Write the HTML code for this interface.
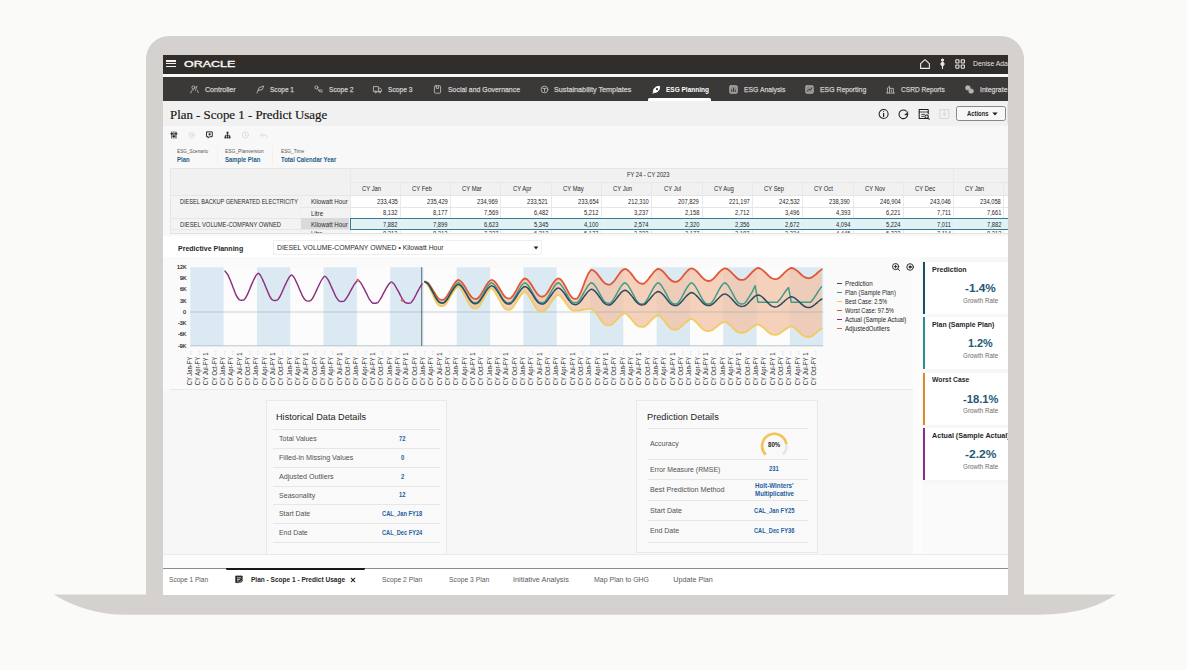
<!DOCTYPE html>
<html lang="en"><head><meta charset="utf-8"><title>Plan - Scope 1 - Predict Usage</title>
<style>
html,body{margin:0;padding:0;}
body{width:1187px;height:670px;overflow:hidden;background:#fafaf9;position:relative;font-family:"Liberation Sans",sans-serif;}
.a{position:absolute;box-sizing:border-box;}
.t{position:absolute;white-space:nowrap;transform-origin:0 50%;font-family:"Liberation Sans",sans-serif;}
.t.s{font-family:"Liberation Serif",serif;}
.t.b{font-weight:700;}
svg{position:absolute;overflow:visible;}
#screen{position:absolute;left:163px;top:55px;width:845px;height:540px;overflow:hidden;background:#f5f5f5;}
#screen .a, #screen .t, #screen svg{ }
</style></head><body>
<div class="a" style="left:145.5px;top:36px;width:878.5px;height:565px;background:#d5d1ce;border-radius:23px 23px 0 0;"></div>
<svg width="1187" height="670" style="left:0;top:0"><path d="M54 594.6 L1116 594.6 C1100 606 1075 614.8 1038 614.8 L124 614.8 C96 614.8 70 605 54 594.6 Z" fill="#d5d1ce"/></svg>
<div id="screen"><div class="a" style="left:-163px;top:-55px;width:1187px;height:670px;">
<div class="a" style="left:163px;top:55px;width:845px;height:19px;background:#312d2a;"></div>
<div class="a" style="left:163px;top:74px;width:845px;height:3px;background:#fbf9f8;"></div>
<div class="a" style="left:163px;top:77px;width:845px;height:24.3px;background:#3a3938;"></div>
<div class="a" style="left:163px;top:101.3px;width:845px;height:24.5px;background:#f1f1f1;"></div>
<div class="a" style="left:163px;top:125.8px;width:845px;height:111px;background:#f8f8f8;"></div>
<div class="a" style="left:166.4px;top:60.25px;width:9.7px;height:1.3px;background:#f2f0ee;"></div>
<div class="a" style="left:166.4px;top:63.15px;width:9.7px;height:1.3px;background:#f2f0ee;"></div>
<div class="a" style="left:166.4px;top:65.94999999999999px;width:9.7px;height:1.3px;background:#f2f0ee;"></div>
<div class="t" style="left:184.00px;top:60px;font-size:9.2px;line-height:9.2px;color:#f7f5f3;transform:scaleX(1.3559);-webkit-text-stroke:0.4px #f7f5f3;">ORACLE</div>
<svg width="60" height="14" viewBox="0 0 60 14" style="left:917px;top:57px" fill="none" stroke="#ece9e6" stroke-width="1.1" stroke-linejoin="round" stroke-linecap="round"><path d="M3.6 6.6 L8 2.6 L12.4 6.6 V11.4 H3.6 Z"/><circle cx="25.5" cy="3" r="1" fill="#ece9e6"/><path d="M25.5 4.8 L27.3 7 L25.5 9.2 L23.7 7 Z" fill="#ece9e6"/><path d="M25.5 9.4 V11.4"/><rect x="38.8" y="2.8" width="3.2" height="3.2" rx="0.6"/><rect x="44.2" y="2.8" width="3.2" height="3.2" rx="0.6"/><rect x="38.8" y="8" width="3.2" height="3.2" rx="0.6"/><rect x="44.2" y="8" width="3.2" height="3.2" rx="0.6"/></svg>
<div class="t" style="left:972.80px;top:60px;font-size:7.3px;line-height:7.3px;color:#e6e3e0;transform:scaleX(0.9315);">Denise Adams</div>
<div class="t" style="left:204.70px;top:86px;font-size:7.5px;line-height:7.5px;color:#cfcdcb;transform:scaleX(0.9411);-webkit-text-stroke:0.25px #cfcdcb;">Controller</div>
<div class="t" style="left:270.40px;top:86px;font-size:7.5px;line-height:7.5px;color:#cfcdcb;transform:scaleX(0.8720);-webkit-text-stroke:0.25px #cfcdcb;">Scope 1</div>
<div class="t" style="left:328.80px;top:86px;font-size:7.5px;line-height:7.5px;color:#cfcdcb;transform:scaleX(0.8902);-webkit-text-stroke:0.25px #cfcdcb;">Scope 2</div>
<div class="t" style="left:388.20px;top:86px;font-size:7.5px;line-height:7.5px;color:#cfcdcb;transform:scaleX(0.8902);-webkit-text-stroke:0.25px #cfcdcb;">Scope 3</div>
<div class="t" style="left:447.80px;top:86px;font-size:7.5px;line-height:7.5px;color:#cfcdcb;transform:scaleX(0.9235);-webkit-text-stroke:0.25px #cfcdcb;">Social and Governance</div>
<div class="t" style="left:554.40px;top:86px;font-size:7.5px;line-height:7.5px;color:#cfcdcb;transform:scaleX(0.9636);-webkit-text-stroke:0.25px #cfcdcb;">Sustainability Templates</div>
<div class="t" style="left:744.00px;top:86px;font-size:7.5px;line-height:7.5px;color:#cfcdcb;transform:scaleX(0.9089);-webkit-text-stroke:0.25px #cfcdcb;">ESG Analysis</div>
<div class="t" style="left:820.00px;top:86px;font-size:7.5px;line-height:7.5px;color:#cfcdcb;transform:scaleX(0.9159);-webkit-text-stroke:0.25px #cfcdcb;">ESG Reporting</div>
<div class="t" style="left:901.30px;top:86px;font-size:7.5px;line-height:7.5px;color:#cfcdcb;transform:scaleX(0.8811);-webkit-text-stroke:0.25px #cfcdcb;">CSRD Reports</div>
<div class="t" style="left:980.00px;top:86px;font-size:7.5px;line-height:7.5px;color:#cfcdcb;transform:scaleX(0.9289);-webkit-text-stroke:0.25px #cfcdcb;">Integrate</div>
<div class="t b" style="left:666.40px;top:86px;font-size:7.4px;line-height:7.4px;color:#ffffff;transform:scaleX(0.8788);">ESG Planning</div>
<div class="a" style="left:648.2px;top:98.2px;width:62.4px;height:3.1px;background:#ffffff;border-radius:1.5px 1.5px 0 0;"></div>
<svg width="9" height="9" viewBox="0 0 9 9" style="left:189.5px;top:84.6px" fill="none" stroke="#b4b2b0" stroke-width="0.95" stroke-linecap="round" stroke-linejoin="round"><circle cx="3.4" cy="2.4" r="1.5"/><path d="M0.8 8 C0.8 5.8 2 4.8 3.6 4.8 M6.8 1.2 L5.6 5.2 M7.4 5.6 L8.2 7.6"/></svg>
<svg width="9" height="9" viewBox="0 0 9 9" style="left:255.5px;top:84.6px" fill="none" stroke="#b4b2b0" stroke-width="0.95" stroke-linecap="round" stroke-linejoin="round"><path d="M1 8 L3.2 2.6 L7.6 1 L6.4 4.6 L2.4 5.4"/></svg>
<svg width="9" height="9" viewBox="0 0 9 9" style="left:314px;top:84.6px" fill="none" stroke="#b4b2b0" stroke-width="0.95" stroke-linecap="round" stroke-linejoin="round"><circle cx="2.4" cy="2.4" r="1.5"/><path d="M3.6 3.6 L5.6 6.8 M5 5 H8 M6.6 6.8 H8.4"/></svg>
<svg width="9" height="9" viewBox="0 0 9 9" style="left:373px;top:84.6px" fill="none" stroke="#b4b2b0" stroke-width="0.95" stroke-linecap="round" stroke-linejoin="round"><path d="M0.8 1.6 H5.4 V6.4 H0.8 Z M5.4 3.2 H7.4 L8.4 4.6 V6.4 H5.4"/><circle cx="2.6" cy="7" r="0.9"/><circle cx="6.6" cy="7" r="0.9"/></svg>
<svg width="9" height="9" viewBox="0 0 9 9" style="left:433px;top:84.6px" fill="none" stroke="#b4b2b0" stroke-width="0.95" stroke-linecap="round" stroke-linejoin="round"><rect x="1.4" y="0.8" width="6.2" height="7.4" rx="1"/><path d="M3.4 0.8 V3.4 H5.6 V0.8"/></svg>
<svg width="9" height="9" viewBox="0 0 9 9" style="left:539.7px;top:84.6px" fill="none" stroke="#b4b2b0" stroke-width="0.95" stroke-linecap="round" stroke-linejoin="round"><circle cx="4.5" cy="4.5" r="3.4"/><path d="M2.8 3.4 H6.2 M4.5 3.4 V6.4"/></svg>
<svg width="9" height="9" viewBox="0 0 9 9" style="left:651.8px;top:84.6px" fill="none" stroke="#ffffff" stroke-width="0.9" stroke-linecap="round" stroke-linejoin="round"><path d="M1.4 7.6 C1 3.6 3.4 1.2 7.6 1.4 C7.8 5.4 5.4 7.8 1.4 7.6 Z" fill="#ffffff"/><circle cx="5" cy="4.2" r="1.1" fill="#3a3938" stroke="none"/><path d="M0.8 8.2 L2.6 6.4" stroke="#ffffff"/></svg>
<svg width="9" height="9" viewBox="0 0 9 9" style="left:729px;top:84.6px" fill="none" stroke="#b4b2b0" stroke-width="0.95" stroke-linecap="round" stroke-linejoin="round"><rect x="0.8" y="0.8" width="7.4" height="7.4" rx="0.8" fill="#8f8d8b"/><path d="M2.6 6.4 V4.8 M4.5 6.4 V3.2 M6.4 6.4 V5.2" stroke="#3a3938"/></svg>
<svg width="9" height="9" viewBox="0 0 9 9" style="left:804.5px;top:84.6px" fill="none" stroke="#b4b2b0" stroke-width="0.95" stroke-linecap="round" stroke-linejoin="round"><rect x="0.8" y="0.8" width="7.4" height="7.4" rx="0.8" fill="#8f8d8b"/><path d="M2.2 6.2 L4 4.2 L5.2 5.2 L7 2.8" stroke="#3a3938"/></svg>
<svg width="9" height="9" viewBox="0 0 9 9" style="left:885.5px;top:84.6px" fill="none" stroke="#b4b2b0" stroke-width="0.95" stroke-linecap="round" stroke-linejoin="round"><path d="M1.4 8 V3 L3.6 1.2 V8 M3.6 3.4 H7.4 V8 M0.6 8 H8.4 M5.4 5 V6.4"/></svg>
<svg width="9" height="9" viewBox="0 0 9 9" style="left:965px;top:84.6px" fill="none" stroke="#b4b2b0" stroke-width="0.95" stroke-linecap="round" stroke-linejoin="round"><rect x="0.8" y="1" width="4.2" height="3.8" rx="1.2" fill="#b9b7b5"/><rect x="4" y="4.2" width="4.2" height="3.8" rx="1.2" fill="#b9b7b5"/></svg>
<div class="t s" style="left:169.80px;top:109px;font-size:12.6px;line-height:12.6px;color:#161616;transform:scaleX(1.0217);-webkit-text-stroke:0.18px #161616;">Plan - Scope 1 - Predict Usage</div>
<svg width="130" height="20" viewBox="0 0 130 20" style="left:876px;top:104px" fill="none" stroke="#1f1f1f" stroke-width="1.05" stroke-linecap="round" stroke-linejoin="round"><circle cx="7.6" cy="10" r="4.5"/><path d="M7.6 9.4 V12.4" stroke-width="1.2"/><circle cx="7.6" cy="7.5" r="0.55" fill="#1f1f1f" stroke="none"/><path d="M31.6 10.6 A4.3 4.3 0 1 1 30.3 7.2"/><path d="M31.9 7.8 L31.9 10.9 L28.9 10.9 Z" fill="#1f1f1f" stroke-width="0.4"/><path d="M51.8 14.4 H43.2 V5.4 H52.2 V10"/><path d="M43.2 8 H52.2 M45.6 10.4 H48.6 M45.6 12.4 H47.6" stroke-width="0.8"/><circle cx="50.6" cy="12.6" r="1.7"/><path d="M51.9 13.9 L53.3 15.3"/><g stroke="#d9d9d9"><rect x="63.8" y="5.6" width="9" height="8.8" rx="0.6"/><path d="M68.3 7.6 V12.4 M66.4 10 H70.2"/></g></svg>
<div class="a" style="left:956.4px;top:106.1px;width:49.3px;height:15.2px;background:#f7f7f7;border:1px solid #8a8785;border-radius:2.5px;"></div>
<div class="t b" style="left:966.50px;top:110px;font-size:7.0px;line-height:7.0px;color:#1f1f1f;transform:scaleX(0.8376);">Actions</div>
<svg width="6" height="4" viewBox="0 0 6 4" style="left:992.3px;top:112.4px"><path d="M0.4 0.4 H5.6 L3 3.6 Z" fill="#1f1f1f"/></svg>
<div class="a" style="left:1006.6px;top:104px;width:1.4px;height:19px;background:#e3e3e3;"></div>
<svg width="110" height="12" viewBox="0 0 110 12" style="left:168px;top:128.8px" fill="none" stroke="#262626" stroke-width="1.25" stroke-linecap="round" stroke-linejoin="round"><g transform="translate(5.9 6) scale(0.72) translate(-5.9 -6)"><path d="M3 1.6 V10.4 M5.9 1.6 V10.4 M8.8 1.6 V10.4"/><path d="M1.9 4.2 H4.1 M4.8 7.8 H7 M7.7 4.2 H9.9" stroke-width="1.9"/></g><g stroke="#dcdcdc" stroke-width="0.95"><circle cx="23.6" cy="6" r="2.7"/><circle cx="23.6" cy="6" r="0.9"/></g><g transform="translate(41.6 6) scale(0.78) translate(-41.6 -6)"><path d="M38.2 2 H45 V8.2 H41.6 L39.8 10 V8.2 H38.2 Z"/><path d="M41.6 3.8 V6.4 M40.3 5.1 H42.9" stroke-width="1"/></g><g transform="translate(59.5 6) scale(0.74) translate(-59.5 -6)"><rect x="58.2" y="1.6" width="2.6" height="2.6" fill="#262626" stroke="none"/><path d="M59.5 4.2 V6.4 M56.7 8 V6.4 H62.3 V8 M59.5 6.4 V8" stroke-width="1.1"/><rect x="55.4" y="8" width="2.4" height="2.6" fill="#262626" stroke="none"/><rect x="58.3" y="8" width="2.4" height="2.6" fill="#262626" stroke="none"/><rect x="61.2" y="8" width="2.4" height="2.6" fill="#262626" stroke="none"/></g><g stroke="#dedede" stroke-width="0.95"><circle cx="77.4" cy="6" r="3.1"/><path d="M77.4 4.2 V6.2 L78.8 7"/><path d="M92.4 6.2 H98.4 C99.6 6.2 99.6 9 98 9 M92.4 6.2 L94.6 4.2 M92.4 6.2 L94.6 8.2"/></g></svg>
<div class="t" style="left:177.20px;top:149px;font-size:5.7px;line-height:5.7px;color:#5a5654;transform:scaleX(0.8301);">ESG_Scenario</div>
<div class="t b" style="left:177.20px;top:157px;font-size:6.9px;line-height:6.9px;color:#1f5c86;transform:scaleX(0.8647);">Plan</div>
<div class="t" style="left:225.20px;top:149px;font-size:5.7px;line-height:5.7px;color:#5a5654;transform:scaleX(0.8646);">ESG_Planversion</div>
<div class="t b" style="left:225.20px;top:157px;font-size:6.9px;line-height:6.9px;color:#1f5c86;transform:scaleX(0.8627);">Sample Plan</div>
<div class="t" style="left:280.80px;top:149px;font-size:5.7px;line-height:5.7px;color:#5a5654;transform:scaleX(0.8387);">ESG_Time</div>
<div class="t b" style="left:280.80px;top:157px;font-size:6.9px;line-height:6.9px;color:#1f5c86;transform:scaleX(0.8669);">Total Calendar Year</div>
<div class="a" style="left:217px;top:146px;width:0.8px;height:19px;background:#f3f1ef;"></div>
<div class="a" style="left:272px;top:146px;width:0.8px;height:19px;background:#f3f1ef;"></div>
<div class="a" style="left:170.0px;top:167.6px;width:838.0px;height:27.80000000000001px;background:#f1f1f1;"></div>
<div class="a" style="left:170.0px;top:195.4px;width:179.5px;height:37.900000000000006px;background:#f3f3f3;"></div>
<div class="a" style="left:349.5px;top:195.4px;width:658.5px;height:37.900000000000006px;background:#ffffff;"></div>
<div class="a" style="left:170.0px;top:167.6px;width:838.0px;height:0.8px;background:#e6e6e6;"></div>
<div class="a" style="left:170.0px;top:167.6px;width:0.8px;height:65.70000000000002px;background:#e6e6e6;"></div>
<div class="a" style="left:170.0px;top:233.3px;width:838.0px;height:0.9px;background:#e2e2e2;"></div>
<div class="a" style="left:349.5px;top:181.5px;width:658.5px;height:0.8px;background:#e9e9e9;"></div>
<div class="a" style="left:170.0px;top:195.4px;width:838.0px;height:0.8px;background:#e6e6e6;"></div>
<div class="a" style="left:349.5px;top:167.6px;width:0.8px;height:65.70000000000002px;background:#e9e9e9;"></div>
<div class="a" style="left:300px;top:195.4px;width:0.8px;height:37.900000000000006px;background:#efefef;"></div>
<div class="a" style="left:953.0999999999999px;top:167.6px;width:0.8px;height:27.80000000000001px;background:#e9e9e9;"></div>
<div class="t" style="left:361.70px;top:185px;font-size:7.0px;line-height:7.0px;color:#2b2b2b;transform:scaleX(0.8370);">CY Jan</div>
<div class="a" style="left:399.8px;top:181.5px;width:0.8px;height:51.80000000000001px;background:#e9e9e9;"></div>
<div class="t" style="left:412.00px;top:185px;font-size:7.0px;line-height:7.0px;color:#2b2b2b;transform:scaleX(0.8370);">CY Feb</div>
<div class="a" style="left:450.1px;top:181.5px;width:0.8px;height:51.80000000000001px;background:#e9e9e9;"></div>
<div class="t" style="left:462.30px;top:185px;font-size:7.0px;line-height:7.0px;color:#2b2b2b;transform:scaleX(0.8370);">CY Mar</div>
<div class="a" style="left:500.4px;top:181.5px;width:0.8px;height:51.80000000000001px;background:#e9e9e9;"></div>
<div class="t" style="left:512.60px;top:185px;font-size:7.0px;line-height:7.0px;color:#2b2b2b;transform:scaleX(0.8370);">CY Apr</div>
<div class="a" style="left:550.7px;top:181.5px;width:0.8px;height:51.80000000000001px;background:#e9e9e9;"></div>
<div class="t" style="left:562.90px;top:185px;font-size:7.0px;line-height:7.0px;color:#2b2b2b;transform:scaleX(0.8370);">CY May</div>
<div class="a" style="left:601.0px;top:181.5px;width:0.8px;height:51.80000000000001px;background:#e9e9e9;"></div>
<div class="t" style="left:613.20px;top:185px;font-size:7.0px;line-height:7.0px;color:#2b2b2b;transform:scaleX(0.8370);">CY Jun</div>
<div class="a" style="left:651.3px;top:181.5px;width:0.8px;height:51.80000000000001px;background:#e9e9e9;"></div>
<div class="t" style="left:663.50px;top:185px;font-size:7.0px;line-height:7.0px;color:#2b2b2b;transform:scaleX(0.8370);">CY Jul</div>
<div class="a" style="left:701.5999999999999px;top:181.5px;width:0.8px;height:51.80000000000001px;background:#e9e9e9;"></div>
<div class="t" style="left:713.80px;top:185px;font-size:7.0px;line-height:7.0px;color:#2b2b2b;transform:scaleX(0.8370);">CY Aug</div>
<div class="a" style="left:751.9px;top:181.5px;width:0.8px;height:51.80000000000001px;background:#e9e9e9;"></div>
<div class="t" style="left:764.10px;top:185px;font-size:7.0px;line-height:7.0px;color:#2b2b2b;transform:scaleX(0.8370);">CY Sep</div>
<div class="a" style="left:802.2px;top:181.5px;width:0.8px;height:51.80000000000001px;background:#e9e9e9;"></div>
<div class="t" style="left:814.40px;top:185px;font-size:7.0px;line-height:7.0px;color:#2b2b2b;transform:scaleX(0.8370);">CY Oct</div>
<div class="a" style="left:852.5px;top:181.5px;width:0.8px;height:51.80000000000001px;background:#e9e9e9;"></div>
<div class="t" style="left:864.70px;top:185px;font-size:7.0px;line-height:7.0px;color:#2b2b2b;transform:scaleX(0.8370);">CY Nov</div>
<div class="a" style="left:902.8px;top:181.5px;width:0.8px;height:51.80000000000001px;background:#e9e9e9;"></div>
<div class="t" style="left:915.00px;top:185px;font-size:7.0px;line-height:7.0px;color:#2b2b2b;transform:scaleX(0.8370);">CY Dec</div>
<div class="a" style="left:953.0999999999999px;top:181.5px;width:0.8px;height:51.80000000000001px;background:#e9e9e9;"></div>
<div class="t" style="left:965.30px;top:185px;font-size:7.0px;line-height:7.0px;color:#2b2b2b;transform:scaleX(0.8370);">CY Jan</div>
<div class="a" style="left:1003.4px;top:181.5px;width:0.8px;height:51.80000000000001px;background:#e9e9e9;"></div>
<div class="t" style="left:627.00px;top:171px;font-size:7.0px;line-height:7.0px;color:#2b2b2b;transform:scaleX(0.8191);">FY 24 - CY 2023</div>
<div class="a" style="left:300px;top:206.75px;width:708px;height:0.8px;background:#e6e6e6;"></div>
<div class="a" style="left:170.0px;top:218.1px;width:838.0px;height:0.8px;background:#e6e6e6;"></div>
<div class="a" style="left:170.0px;top:229.45px;width:838.0px;height:0.8px;background:#e6e6e6;"></div>
<div class="a" style="left:300.8px;top:218.1px;width:48.69999999999999px;height:11.35px;background:#dadada;"></div>
<div class="a" style="left:349.5px;top:217.7px;width:662.5px;height:12.25px;background:#e3f1f6;border:1.3px solid #2f7f92;"></div>
<div class="t" style="left:376.58px;top:198px;font-size:7.0px;line-height:7.0px;color:#262626;transform:scaleX(0.8229);">233,435</div>
<div class="t" style="left:426.88px;top:198px;font-size:7.0px;line-height:7.0px;color:#262626;transform:scaleX(0.8229);">235,429</div>
<div class="t" style="left:477.18px;top:198px;font-size:7.0px;line-height:7.0px;color:#262626;transform:scaleX(0.8229);">234,969</div>
<div class="t" style="left:527.48px;top:198px;font-size:7.0px;line-height:7.0px;color:#262626;transform:scaleX(0.8229);">233,521</div>
<div class="t" style="left:577.78px;top:198px;font-size:7.0px;line-height:7.0px;color:#262626;transform:scaleX(0.8229);">233,654</div>
<div class="t" style="left:628.08px;top:198px;font-size:7.0px;line-height:7.0px;color:#262626;transform:scaleX(0.8229);">212,310</div>
<div class="t" style="left:678.38px;top:198px;font-size:7.0px;line-height:7.0px;color:#262626;transform:scaleX(0.8229);">207,829</div>
<div class="t" style="left:728.68px;top:198px;font-size:7.0px;line-height:7.0px;color:#262626;transform:scaleX(0.8229);">221,197</div>
<div class="t" style="left:778.98px;top:198px;font-size:7.0px;line-height:7.0px;color:#262626;transform:scaleX(0.8229);">242,532</div>
<div class="t" style="left:829.28px;top:198px;font-size:7.0px;line-height:7.0px;color:#262626;transform:scaleX(0.8229);">238,390</div>
<div class="t" style="left:879.58px;top:198px;font-size:7.0px;line-height:7.0px;color:#262626;transform:scaleX(0.8229);">246,904</div>
<div class="t" style="left:929.88px;top:198px;font-size:7.0px;line-height:7.0px;color:#262626;transform:scaleX(0.8229);">243,046</div>
<div class="t" style="left:980.18px;top:198px;font-size:7.0px;line-height:7.0px;color:#262626;transform:scaleX(0.8229);">234,058</div>
<div class="t" style="left:382.99px;top:209px;font-size:7.0px;line-height:7.0px;color:#262626;transform:scaleX(0.8229);">8,132</div>
<div class="t" style="left:433.29px;top:209px;font-size:7.0px;line-height:7.0px;color:#262626;transform:scaleX(0.8229);">8,177</div>
<div class="t" style="left:483.59px;top:209px;font-size:7.0px;line-height:7.0px;color:#262626;transform:scaleX(0.8229);">7,569</div>
<div class="t" style="left:533.89px;top:209px;font-size:7.0px;line-height:7.0px;color:#262626;transform:scaleX(0.8229);">6,482</div>
<div class="t" style="left:584.19px;top:209px;font-size:7.0px;line-height:7.0px;color:#262626;transform:scaleX(0.8229);">5,212</div>
<div class="t" style="left:634.49px;top:209px;font-size:7.0px;line-height:7.0px;color:#262626;transform:scaleX(0.8229);">3,237</div>
<div class="t" style="left:684.79px;top:209px;font-size:7.0px;line-height:7.0px;color:#262626;transform:scaleX(0.8229);">2,158</div>
<div class="t" style="left:735.09px;top:209px;font-size:7.0px;line-height:7.0px;color:#262626;transform:scaleX(0.8229);">2,712</div>
<div class="t" style="left:785.39px;top:209px;font-size:7.0px;line-height:7.0px;color:#262626;transform:scaleX(0.8229);">3,496</div>
<div class="t" style="left:835.69px;top:209px;font-size:7.0px;line-height:7.0px;color:#262626;transform:scaleX(0.8229);">4,393</div>
<div class="t" style="left:885.99px;top:209px;font-size:7.0px;line-height:7.0px;color:#262626;transform:scaleX(0.8229);">6,221</div>
<div class="t" style="left:936.71px;top:209px;font-size:7.0px;line-height:7.0px;color:#262626;transform:scaleX(0.8229);">7,711</div>
<div class="t" style="left:986.59px;top:209px;font-size:7.0px;line-height:7.0px;color:#262626;transform:scaleX(0.8229);">7,661</div>
<div class="t" style="left:382.99px;top:221px;font-size:7.0px;line-height:7.0px;color:#262626;transform:scaleX(0.8229);">7,882</div>
<div class="t" style="left:433.29px;top:221px;font-size:7.0px;line-height:7.0px;color:#262626;transform:scaleX(0.8229);">7,899</div>
<div class="t" style="left:483.59px;top:221px;font-size:7.0px;line-height:7.0px;color:#262626;transform:scaleX(0.8229);">6,623</div>
<div class="t" style="left:533.89px;top:221px;font-size:7.0px;line-height:7.0px;color:#262626;transform:scaleX(0.8229);">5,345</div>
<div class="t" style="left:584.19px;top:221px;font-size:7.0px;line-height:7.0px;color:#262626;transform:scaleX(0.8229);">4,100</div>
<div class="t" style="left:634.49px;top:221px;font-size:7.0px;line-height:7.0px;color:#262626;transform:scaleX(0.8229);">2,574</div>
<div class="t" style="left:684.79px;top:221px;font-size:7.0px;line-height:7.0px;color:#262626;transform:scaleX(0.8229);">2,320</div>
<div class="t" style="left:735.09px;top:221px;font-size:7.0px;line-height:7.0px;color:#262626;transform:scaleX(0.8229);">2,356</div>
<div class="t" style="left:785.39px;top:221px;font-size:7.0px;line-height:7.0px;color:#262626;transform:scaleX(0.8229);">2,672</div>
<div class="t" style="left:835.69px;top:221px;font-size:7.0px;line-height:7.0px;color:#262626;transform:scaleX(0.8229);">4,094</div>
<div class="t" style="left:885.99px;top:221px;font-size:7.0px;line-height:7.0px;color:#262626;transform:scaleX(0.8229);">5,224</div>
<div class="t" style="left:936.71px;top:221px;font-size:7.0px;line-height:7.0px;color:#262626;transform:scaleX(0.8229);">7,011</div>
<div class="t" style="left:986.59px;top:221px;font-size:7.0px;line-height:7.0px;color:#262626;transform:scaleX(0.8229);">7,882</div>
<div class="a" style="left:170.0px;top:230.25px;width:838.0px;height:3.050000000000023px;overflow:hidden;">
<div class="t" style="left:212.99px;top:0px;font-size:7px;line-height:7px;color:#3a3a3a;transform:scaleX(0.823);">8,213</div>
<div class="t" style="left:263.29px;top:0px;font-size:7px;line-height:7px;color:#3a3a3a;transform:scaleX(0.823);">8,212</div>
<div class="t" style="left:313.59px;top:0px;font-size:7px;line-height:7px;color:#3a3a3a;transform:scaleX(0.823);">7,337</div>
<div class="t" style="left:363.89px;top:0px;font-size:7px;line-height:7px;color:#3a3a3a;transform:scaleX(0.823);">6,312</div>
<div class="t" style="left:414.19px;top:0px;font-size:7px;line-height:7px;color:#3a3a3a;transform:scaleX(0.823);">5,177</div>
<div class="t" style="left:464.49px;top:0px;font-size:7px;line-height:7px;color:#3a3a3a;transform:scaleX(0.823);">3,333</div>
<div class="t" style="left:514.79px;top:0px;font-size:7px;line-height:7px;color:#3a3a3a;transform:scaleX(0.823);">2,177</div>
<div class="t" style="left:565.09px;top:0px;font-size:7px;line-height:7px;color:#3a3a3a;transform:scaleX(0.823);">2,187</div>
<div class="t" style="left:615.39px;top:0px;font-size:7px;line-height:7px;color:#3a3a3a;transform:scaleX(0.823);">3,334</div>
<div class="t" style="left:665.69px;top:0px;font-size:7px;line-height:7px;color:#3a3a3a;transform:scaleX(0.823);">4,445</div>
<div class="t" style="left:715.99px;top:0px;font-size:7px;line-height:7px;color:#3a3a3a;transform:scaleX(0.823);">5,333</div>
<div class="t" style="left:766.71px;top:0px;font-size:7px;line-height:7px;color:#3a3a3a;transform:scaleX(0.823);">7,114</div>
<div class="t" style="left:816.59px;top:0px;font-size:7px;line-height:7px;color:#3a3a3a;transform:scaleX(0.823);">8,213</div>
<div class="t" style="left:141.10px;top:0px;font-size:7px;line-height:7px;color:#3a3a3a;transform:scaleX(0.85);">Litre</div>
</div>
<div class="t" style="left:180.20px;top:198px;font-size:7.0px;line-height:7.0px;color:#2b2b2b;transform:scaleX(0.7990);">DIESEL BACKUP GENERATED ELECTRICITY</div>
<div class="t" style="left:311.10px;top:198px;font-size:7.0px;line-height:7.0px;color:#2b2b2b;transform:scaleX(0.8816);">Kilowatt Hour</div>
<div class="t" style="left:311.10px;top:210px;font-size:7.0px;line-height:7.0px;color:#2b2b2b;transform:scaleX(0.8885);">Litre</div>
<div class="t" style="left:180.20px;top:221px;font-size:7.0px;line-height:7.0px;color:#2b2b2b;transform:scaleX(0.8278);">DIESEL VOLUME-COMPANY OWNED</div>
<div class="t" style="left:311.10px;top:221px;font-size:7.0px;line-height:7.0px;color:#2b2b2b;transform:scaleX(0.8816);">Kilowatt Hour</div>
<div class="a" style="left:163px;top:235.6px;width:845px;height:21.7px;background:#ffffff;"></div>
<div class="t b" style="left:177.70px;top:245px;font-size:7.5px;line-height:7.5px;color:#262626;transform:scaleX(0.9367);">Predictive Planning</div>
<div class="a" style="left:273px;top:240.3px;width:269px;height:14.6px;background:#ffffff;border:0.8px solid #efefef;border-radius:1px;"></div>
<div class="t" style="left:277.00px;top:244px;font-size:7.0px;line-height:7.0px;color:#2b2b2b;transform:scaleX(0.9796);">DIESEL VOLUME-COMPANY OWNED • Kilowatt Hour</div>
<svg width="6" height="4" viewBox="0 0 6 4" style="left:532.6px;top:245.9px"><path d="M0.7 0.5 H5.3 L3 3.4 Z" fill="#1f1f1f"/></svg>
<div class="a" style="left:163px;top:257.3px;width:750px;height:132.5px;background:#fafafa;"></div>
<div class="a" style="left:170px;top:389.4px;width:742.8px;height:0.9px;background:#e9e9e9;"></div>
<div class="a" style="left:912.8px;top:257.3px;width:9.4px;height:297px;background:#fcfcfc;"></div>
<svg width="1187" height="670" viewBox="0 0 1187 670" style="left:0;top:0"><rect x="190.3" y="267.2" width="632.9" height="78.6" fill="#fcfcfc"/><rect x="190.30" y="267.2" width="33.31" height="78.6" fill="#dbe9f3"/><rect x="256.92" y="267.2" width="33.31" height="78.6" fill="#dbe9f3"/><rect x="323.54" y="267.2" width="33.31" height="78.6" fill="#dbe9f3"/><rect x="390.16" y="267.2" width="33.31" height="78.6" fill="#dbe9f3"/><rect x="456.78" y="267.2" width="33.31" height="78.6" fill="#dbe9f3"/><rect x="523.41" y="267.2" width="33.31" height="78.6" fill="#dbe9f3"/><rect x="590.03" y="267.2" width="33.31" height="78.6" fill="#dbe9f3"/><rect x="656.65" y="267.2" width="33.31" height="78.6" fill="#dbe9f3"/><rect x="723.27" y="267.2" width="33.31" height="78.6" fill="#dbe9f3"/><rect x="789.89" y="267.2" width="33.31" height="78.6" fill="#dbe9f3"/><path d="M424.9 281.5C425.3 281.8 426.7 282.0 427.6 282.8C428.6 283.6 429.5 284.9 430.4 286.2C431.3 287.5 432.3 289.1 433.2 290.6C434.1 292.1 435.0 293.9 436.0 295.2C436.9 296.6 437.8 297.8 438.7 298.6C439.7 299.4 440.6 299.8 441.5 299.9C442.4 300.0 443.4 300.0 444.3 299.3C445.2 298.7 446.1 297.5 447.1 296.1C448.0 294.8 448.9 293.0 449.8 291.4C450.8 289.8 451.7 287.9 452.6 286.4C453.5 284.9 454.5 283.3 455.4 282.2C456.3 281.2 457.2 280.2 458.2 280.0C459.1 279.9 460.0 280.6 460.9 281.4C461.9 282.2 462.8 283.5 463.7 284.8C464.6 286.2 465.6 287.8 466.5 289.4C467.4 290.9 468.4 292.7 469.3 294.1C470.2 295.5 471.1 296.8 472.1 297.6C473.0 298.4 473.9 298.8 474.8 298.9C475.8 299.1 476.7 299.0 477.6 298.4C478.5 297.8 479.5 296.6 480.4 295.3C481.3 294.0 482.2 292.3 483.2 290.7C484.1 289.1 485.0 287.4 485.9 285.9C486.9 284.4 487.8 282.9 488.7 281.9C489.6 280.9 490.6 279.9 491.5 279.8C492.4 279.6 493.3 280.3 494.3 281.1C495.2 281.9 496.1 283.2 497.0 284.5C498.0 285.9 498.9 287.5 499.8 289.0C500.7 290.6 501.7 292.4 502.6 293.7C503.5 295.1 504.4 296.4 505.4 297.2C506.3 298.0 507.2 298.4 508.1 298.5C509.1 298.7 510.0 298.6 510.9 298.0C511.8 297.3 512.8 296.1 513.7 294.7C514.6 293.4 515.5 291.6 516.5 289.9C517.4 288.3 518.3 286.5 519.2 284.9C520.2 283.4 521.1 281.8 522.0 280.7C522.9 279.7 523.9 278.7 524.8 278.5C525.7 278.4 526.6 279.0 527.6 279.8C528.5 280.6 529.4 281.8 530.3 283.1C531.3 284.4 532.2 286.0 533.1 287.5C534.0 288.9 535.0 290.7 535.9 292.0C536.8 293.3 537.7 294.6 538.7 295.3C539.6 296.1 540.5 296.5 541.4 296.6C542.4 296.8 543.3 296.7 544.2 296.1C545.1 295.5 546.1 294.4 547.0 293.2C547.9 291.9 548.9 290.3 549.8 288.8C550.7 287.2 551.6 285.5 552.6 284.1C553.5 282.7 554.4 281.3 555.3 280.3C556.3 279.3 557.2 278.4 558.1 278.3C559.0 278.2 560.0 278.8 560.9 279.7C561.8 280.6 562.7 282.1 563.7 283.5C564.6 285.0 565.5 286.8 566.4 288.5C567.4 290.2 568.3 292.2 569.2 293.7C570.1 295.1 571.1 296.6 572.0 297.4C572.9 298.3 573.8 298.8 574.8 298.9C575.7 299.0 576.6 299.0 577.5 298.1C578.5 297.2 579.4 295.3 580.3 293.4C581.2 291.5 582.2 288.8 583.1 286.5C584.0 284.1 584.9 281.4 585.9 279.2C586.8 276.9 587.7 274.7 588.6 273.1C589.6 271.6 590.5 270.2 591.4 269.9C592.3 269.5 593.3 270.3 594.2 270.9C595.1 271.5 596.0 272.6 597.0 273.6C597.9 274.6 598.8 275.9 599.7 277.1C600.7 278.4 601.6 279.8 602.5 280.9C603.4 281.9 604.4 282.9 605.3 283.6C606.2 284.2 607.1 284.5 608.1 284.6C609.0 284.7 609.9 284.7 610.8 284.2C611.8 283.7 612.7 282.7 613.6 281.7C614.5 280.6 615.5 279.2 616.4 277.9C617.3 276.6 618.2 275.2 619.2 274.0C620.1 272.8 621.0 271.5 621.9 270.7C622.9 269.9 623.8 269.1 624.7 269.0C625.7 268.8 626.6 269.4 627.5 270.0C628.4 270.6 629.4 271.6 630.3 272.7C631.2 273.7 632.1 275.0 633.1 276.2C634.0 277.4 634.9 278.9 635.8 279.9C636.8 281.0 637.7 282.0 638.6 282.6C639.5 283.3 640.5 283.6 641.4 283.7C642.3 283.8 643.2 283.7 644.2 283.3C645.1 282.8 646.0 281.9 646.9 280.9C647.9 279.9 648.8 278.6 649.7 277.4C650.6 276.2 651.6 274.8 652.5 273.7C653.4 272.5 654.3 271.4 655.3 270.6C656.2 269.8 657.1 269.1 658.0 268.9C659.0 268.8 659.9 269.3 660.8 269.8C661.7 270.4 662.7 271.3 663.6 272.2C664.5 273.1 665.4 274.2 666.4 275.3C667.3 276.3 668.2 277.6 669.1 278.5C670.1 279.5 671.0 280.3 671.9 280.9C672.8 281.4 673.8 281.7 674.7 281.8C675.6 281.9 676.5 281.9 677.5 281.4C678.4 281.0 679.3 280.2 680.2 279.3C681.2 278.4 682.1 277.1 683.0 276.0C683.9 274.9 684.9 273.7 685.8 272.6C686.7 271.6 687.6 270.6 688.6 269.8C689.5 269.1 690.4 268.4 691.3 268.3C692.3 268.2 693.2 268.7 694.1 269.2C695.0 269.8 696.0 270.6 696.9 271.5C697.8 272.4 698.7 273.5 699.7 274.6C700.6 275.6 701.5 276.8 702.4 277.7C703.4 278.6 704.3 279.5 705.2 280.0C706.2 280.6 707.1 280.9 708.0 281.0C708.9 281.0 709.9 281.0 710.8 280.6C711.7 280.2 712.6 279.4 713.6 278.6C714.5 277.7 715.4 276.6 716.3 275.5C717.3 274.5 718.2 273.3 719.1 272.4C720.0 271.4 721.0 270.4 721.9 269.7C722.8 269.1 723.7 268.4 724.7 268.3C725.6 268.2 726.5 268.7 727.4 269.1C728.4 269.6 729.3 270.5 730.2 271.3C731.1 272.1 732.1 273.1 733.0 274.1C733.9 275.0 734.8 276.1 735.8 277.0C736.7 277.8 737.6 278.6 738.5 279.1C739.5 279.6 740.4 279.9 741.3 279.9C742.2 280.0 743.2 280.0 744.1 279.6C745.0 279.2 745.9 278.5 746.9 277.7C747.8 276.9 748.7 275.8 749.6 274.8C750.6 273.9 751.5 272.8 752.4 271.8C753.3 270.9 754.3 270.0 755.2 269.4C756.1 268.7 757.0 268.1 758.0 268.0C758.9 267.9 759.8 268.3 760.7 268.8C761.7 269.3 762.6 270.1 763.5 270.8C764.4 271.6 765.4 272.6 766.3 273.5C767.2 274.4 768.1 275.5 769.1 276.3C770.0 277.1 770.9 277.8 771.8 278.3C772.8 278.8 773.7 279.0 774.6 279.1C775.5 279.2 776.5 279.1 777.4 278.8C778.3 278.4 779.2 277.7 780.2 277.0C781.1 276.2 782.0 275.2 782.9 274.3C783.9 273.4 784.8 272.4 785.7 271.6C786.7 270.7 787.6 269.8 788.5 269.3C789.4 268.7 790.4 268.1 791.3 268.0C792.2 267.9 793.1 268.3 794.1 268.7C795.0 269.2 795.9 269.9 796.8 270.6C797.8 271.3 798.7 272.2 799.6 273.0C800.5 273.9 801.5 274.8 802.4 275.6C803.3 276.3 804.2 277.0 805.2 277.4C806.1 277.9 807.0 278.1 807.9 278.2C808.9 278.3 809.8 278.2 810.7 277.9C811.6 277.6 812.6 277.0 813.5 276.3C814.4 275.7 815.3 274.8 816.3 274.0C817.2 273.1 818.1 272.2 819.0 271.5C820.0 270.7 821.3 269.8 821.8 269.4L821.8 328.2C821.3 328.6 820.0 329.5 819.0 330.3C818.1 331.0 817.2 331.9 816.3 332.7C815.3 333.5 814.4 334.4 813.5 335.1C812.6 335.8 811.6 336.5 810.7 336.8C809.8 337.1 808.9 337.1 807.9 337.1C807.0 337.1 806.1 337.1 805.2 336.7C804.2 336.4 803.3 335.8 802.4 335.1C801.5 334.4 800.5 333.4 799.6 332.5C798.7 331.7 797.8 330.8 796.8 329.9C795.9 329.1 795.0 328.2 794.1 327.6C793.1 327.0 792.2 326.4 791.3 326.4C790.4 326.3 789.4 326.9 788.5 327.3C787.6 327.8 786.7 328.4 785.7 329.1C784.8 329.7 783.9 330.4 782.9 331.1C782.0 331.7 781.1 332.5 780.2 333.1C779.2 333.6 778.3 334.2 777.4 334.5C776.5 334.7 775.5 334.7 774.6 334.7C773.7 334.7 772.8 334.7 771.8 334.4C770.9 334.0 770.0 333.5 769.1 332.8C768.1 332.1 767.2 331.2 766.3 330.3C765.4 329.5 764.4 328.7 763.5 327.9C762.6 327.1 761.7 326.3 760.7 325.7C759.8 325.1 758.9 324.5 758.0 324.5C757.0 324.5 756.1 325.0 755.2 325.5C754.3 325.9 753.3 326.5 752.4 327.2C751.5 327.8 750.6 328.5 749.6 329.2C748.7 329.8 747.8 330.6 746.9 331.1C745.9 331.7 745.0 332.3 744.1 332.5C743.2 332.8 742.2 332.8 741.3 332.8C740.4 332.8 739.5 332.8 738.5 332.4C737.6 332.1 736.7 331.4 735.8 330.7C734.8 330.0 733.9 328.9 733.0 328.0C732.1 327.1 731.1 326.2 730.2 325.4C729.3 324.5 728.4 323.6 727.4 323.0C726.5 322.4 725.6 321.7 724.7 321.7C723.7 321.6 722.8 322.3 721.9 322.7C721.0 323.2 720.0 324.0 719.1 324.7C718.2 325.4 717.3 326.2 716.3 326.9C715.4 327.6 714.5 328.5 713.6 329.1C712.6 329.8 711.7 330.4 710.8 330.7C709.9 331.0 708.9 331.0 708.0 331.0C707.1 331.0 706.2 331.0 705.2 330.6C704.3 330.2 703.4 329.5 702.4 328.7C701.5 327.9 700.6 326.8 699.7 325.8C698.7 324.8 697.8 323.8 696.9 322.9C696.0 322.0 695.0 321.0 694.1 320.3C693.2 319.6 692.3 318.9 691.3 318.9C690.4 318.9 689.5 319.6 688.6 320.1C687.6 320.7 686.7 321.5 685.8 322.4C684.9 323.2 683.9 324.1 683.0 325.0C682.1 325.8 681.2 326.8 680.2 327.6C679.3 328.3 678.4 329.0 677.5 329.4C676.5 329.7 675.6 329.7 674.7 329.7C673.8 329.7 672.8 329.7 671.9 329.2C671.0 328.8 670.1 327.9 669.1 327.0C668.2 326.0 667.3 324.7 666.4 323.5C665.4 322.3 664.5 321.1 663.6 320.0C662.7 318.9 661.7 317.7 660.8 316.9C659.9 316.1 659.0 315.3 658.0 315.2C657.1 315.2 656.2 315.9 655.3 316.5C654.3 317.2 653.4 318.1 652.5 319.0C651.6 319.8 650.6 320.8 649.7 321.8C648.8 322.7 647.9 323.8 646.9 324.6C646.0 325.4 645.1 326.2 644.2 326.6C643.2 327.0 642.3 326.9 641.4 326.9C640.5 326.9 639.5 326.9 638.6 326.5C637.7 326.0 636.8 325.3 635.8 324.4C634.9 323.5 634.0 322.2 633.1 321.1C632.1 320.0 631.2 318.9 630.3 317.9C629.4 316.9 628.4 315.7 627.5 315.0C626.6 314.2 625.7 313.4 624.7 313.4C623.8 313.4 622.9 314.1 621.9 314.8C621.0 315.4 620.1 316.3 619.2 317.2C618.2 318.1 617.3 319.2 616.4 320.1C615.5 321.1 614.5 322.2 613.6 323.0C612.7 323.8 611.8 324.6 610.8 325.0C609.9 325.4 609.0 325.4 608.1 325.4C607.1 325.4 606.2 325.4 605.3 324.8C604.4 324.3 603.4 323.4 602.5 322.3C601.6 321.2 600.7 319.6 599.7 318.3C598.8 317.0 597.9 315.6 597.0 314.3C596.0 313.1 595.1 311.6 594.2 310.7C593.3 309.8 592.3 309.1 591.4 308.8C590.5 308.5 589.6 308.9 588.6 309.0C587.7 309.1 586.8 309.2 585.9 309.4C584.9 309.5 584.0 309.7 583.1 309.8C582.2 310.0 581.2 310.1 580.3 310.2C579.4 310.4 578.5 310.5 577.5 310.6C576.6 310.6 575.7 310.7 574.8 310.6C573.8 310.5 572.9 310.6 572.0 310.1C571.1 309.6 570.1 308.7 569.2 307.7C568.3 306.6 567.4 305.1 566.4 303.9C565.5 302.6 564.6 301.3 563.7 300.1C562.7 298.9 561.8 297.6 560.9 296.7C560.0 295.8 559.0 294.9 558.1 294.9C557.2 294.9 556.3 295.9 555.3 296.8C554.4 297.7 553.5 299.0 552.6 300.2C551.6 301.4 550.7 302.9 549.8 304.2C548.9 305.5 547.9 307.1 547.0 308.2C546.1 309.3 545.1 310.5 544.2 311.0C543.3 311.6 542.4 311.5 541.4 311.5C540.5 311.5 539.6 311.5 538.7 310.8C537.7 310.2 536.8 309.1 535.9 307.8C535.0 306.5 534.0 304.6 533.1 303.0C532.2 301.4 531.3 299.8 530.3 298.3C529.4 296.8 528.5 295.1 527.6 294.0C526.6 292.9 525.7 291.7 524.8 291.7C523.9 291.7 522.9 292.8 522.0 293.8C521.1 294.7 520.2 296.1 519.2 297.5C518.3 298.8 517.4 300.4 516.5 301.8C515.5 303.2 514.6 304.9 513.7 306.1C512.8 307.3 511.8 308.6 510.9 309.2C510.0 309.8 509.1 309.7 508.1 309.7C507.2 309.7 506.3 309.6 505.4 309.0C504.4 308.3 503.5 307.1 502.6 305.7C501.7 304.3 500.7 302.3 499.8 300.6C498.9 298.9 498.0 297.1 497.0 295.5C496.1 293.9 495.2 292.1 494.3 290.9C493.3 289.7 492.4 288.5 491.5 288.4C490.6 288.4 489.6 289.6 488.7 290.7C487.8 291.8 486.9 293.3 485.9 294.8C485.0 296.3 484.1 298.0 483.2 299.6C482.2 301.2 481.3 303.0 480.4 304.4C479.5 305.8 478.5 307.1 477.6 307.8C476.7 308.4 475.8 308.4 474.8 308.4C473.9 308.4 473.0 308.3 472.1 307.6C471.1 307.0 470.2 305.7 469.3 304.3C468.4 302.9 467.4 300.8 466.5 299.0C465.6 297.3 464.6 295.4 463.7 293.8C462.8 292.1 461.9 290.2 460.9 289.0C460.0 287.8 459.1 286.6 458.2 286.5C457.2 286.5 456.3 287.7 455.4 288.7C454.5 289.8 453.5 291.3 452.6 292.7C451.7 294.2 450.8 295.9 449.8 297.4C448.9 299.0 448.0 300.8 447.1 302.1C446.1 303.5 445.2 304.8 444.3 305.4C443.4 306.1 442.4 306.0 441.5 306.0C440.6 306.0 439.7 305.9 438.7 305.2C437.8 304.4 436.9 303.1 436.0 301.5C435.0 299.9 434.1 297.6 433.2 295.7C432.3 293.7 431.3 291.7 430.4 289.9C429.5 288.1 428.6 286.0 427.6 284.7C426.7 283.3 425.3 282.3 424.9 281.9Z" fill="#f2c4a8" fill-opacity="0.78"/><path d="M190.3 312.0 H823.2" stroke="#9aa5ad" stroke-width="0.5" fill="none"/><path d="M190.3 345.8 H823.2" stroke="#aebfca" stroke-width="0.9" fill="none"/><path d="M421.7 267.2 V345.8" stroke="#4a4a4a" stroke-width="0.8" fill="none"/><path d="M424.9 281.9C425.3 282.3 426.7 283.3 427.6 284.7C428.6 286.0 429.5 288.1 430.4 289.9C431.3 291.7 432.3 293.7 433.2 295.7C434.1 297.6 435.0 299.9 436.0 301.5C436.9 303.1 437.8 304.4 438.7 305.2C439.7 305.9 440.6 306.0 441.5 306.0C442.4 306.0 443.4 306.1 444.3 305.4C445.2 304.8 446.1 303.5 447.1 302.1C448.0 300.8 448.9 299.0 449.8 297.4C450.8 295.9 451.7 294.2 452.6 292.7C453.5 291.3 454.5 289.8 455.4 288.7C456.3 287.7 457.2 286.5 458.2 286.5C459.1 286.6 460.0 287.8 460.9 289.0C461.9 290.2 462.8 292.1 463.7 293.8C464.6 295.4 465.6 297.3 466.5 299.0C467.4 300.8 468.4 302.9 469.3 304.3C470.2 305.7 471.1 307.0 472.1 307.6C473.0 308.3 473.9 308.4 474.8 308.4C475.8 308.4 476.7 308.4 477.6 307.8C478.5 307.1 479.5 305.8 480.4 304.4C481.3 303.0 482.2 301.2 483.2 299.6C484.1 298.0 485.0 296.3 485.9 294.8C486.9 293.3 487.8 291.8 488.7 290.7C489.6 289.6 490.6 288.4 491.5 288.4C492.4 288.5 493.3 289.7 494.3 290.9C495.2 292.1 496.1 293.9 497.0 295.5C498.0 297.1 498.9 298.9 499.8 300.6C500.7 302.3 501.7 304.3 502.6 305.7C503.5 307.1 504.4 308.3 505.4 309.0C506.3 309.6 507.2 309.7 508.1 309.7C509.1 309.7 510.0 309.8 510.9 309.2C511.8 308.6 512.8 307.3 513.7 306.1C514.6 304.9 515.5 303.2 516.5 301.8C517.4 300.4 518.3 298.8 519.2 297.5C520.2 296.1 521.1 294.7 522.0 293.8C522.9 292.8 523.9 291.7 524.8 291.7C525.7 291.7 526.6 292.9 527.6 294.0C528.5 295.1 529.4 296.8 530.3 298.3C531.3 299.8 532.2 301.4 533.1 303.0C534.0 304.6 535.0 306.5 535.9 307.8C536.8 309.1 537.7 310.2 538.7 310.8C539.6 311.5 540.5 311.5 541.4 311.5C542.4 311.5 543.3 311.6 544.2 311.0C545.1 310.5 546.1 309.3 547.0 308.2C547.9 307.1 548.9 305.5 549.8 304.2C550.7 302.9 551.6 301.4 552.6 300.2C553.5 299.0 554.4 297.7 555.3 296.8C556.3 295.9 557.2 294.9 558.1 294.9C559.0 294.9 560.0 295.8 560.9 296.7C561.8 297.6 562.7 298.9 563.7 300.1C564.6 301.3 565.5 302.6 566.4 303.9C567.4 305.1 568.3 306.6 569.2 307.7C570.1 308.7 571.1 309.6 572.0 310.1C572.9 310.6 573.8 310.5 574.8 310.6C575.7 310.7 576.6 310.6 577.5 310.6C578.5 310.5 579.4 310.4 580.3 310.2C581.2 310.1 582.2 310.0 583.1 309.8C584.0 309.7 584.9 309.5 585.9 309.4C586.8 309.2 587.7 309.1 588.6 309.0C589.6 308.9 590.5 308.5 591.4 308.8C592.3 309.1 593.3 309.8 594.2 310.7C595.1 311.6 596.0 313.1 597.0 314.3C597.9 315.6 598.8 317.0 599.7 318.3C600.7 319.6 601.6 321.2 602.5 322.3C603.4 323.4 604.4 324.3 605.3 324.8C606.2 325.4 607.1 325.4 608.1 325.4C609.0 325.4 609.9 325.4 610.8 325.0C611.8 324.6 612.7 323.8 613.6 323.0C614.5 322.2 615.5 321.1 616.4 320.1C617.3 319.2 618.2 318.1 619.2 317.2C620.1 316.3 621.0 315.4 621.9 314.8C622.9 314.1 623.8 313.4 624.7 313.4C625.7 313.4 626.6 314.2 627.5 315.0C628.4 315.7 629.4 316.9 630.3 317.9C631.2 318.9 632.1 320.0 633.1 321.1C634.0 322.2 634.9 323.5 635.8 324.4C636.8 325.3 637.7 326.0 638.6 326.5C639.5 326.9 640.5 326.9 641.4 326.9C642.3 326.9 643.2 327.0 644.2 326.6C645.1 326.2 646.0 325.4 646.9 324.6C647.9 323.8 648.8 322.7 649.7 321.8C650.6 320.8 651.6 319.8 652.5 319.0C653.4 318.1 654.3 317.2 655.3 316.5C656.2 315.9 657.1 315.2 658.0 315.2C659.0 315.3 659.9 316.1 660.8 316.9C661.7 317.7 662.7 318.9 663.6 320.0C664.5 321.1 665.4 322.3 666.4 323.5C667.3 324.7 668.2 326.0 669.1 327.0C670.1 327.9 671.0 328.8 671.9 329.2C672.8 329.7 673.8 329.7 674.7 329.7C675.6 329.7 676.5 329.7 677.5 329.4C678.4 329.0 679.3 328.3 680.2 327.6C681.2 326.8 682.1 325.8 683.0 325.0C683.9 324.1 684.9 323.2 685.8 322.4C686.7 321.5 687.6 320.7 688.6 320.1C689.5 319.6 690.4 318.9 691.3 318.9C692.3 318.9 693.2 319.6 694.1 320.3C695.0 321.0 696.0 322.0 696.9 322.9C697.8 323.8 698.7 324.8 699.7 325.8C700.6 326.8 701.5 327.9 702.4 328.7C703.4 329.5 704.3 330.2 705.2 330.6C706.2 331.0 707.1 331.0 708.0 331.0C708.9 331.0 709.9 331.0 710.8 330.7C711.7 330.4 712.6 329.8 713.6 329.1C714.5 328.5 715.4 327.6 716.3 326.9C717.3 326.2 718.2 325.4 719.1 324.7C720.0 324.0 721.0 323.2 721.9 322.7C722.8 322.3 723.7 321.6 724.7 321.7C725.6 321.7 726.5 322.4 727.4 323.0C728.4 323.6 729.3 324.5 730.2 325.4C731.1 326.2 732.1 327.1 733.0 328.0C733.9 328.9 734.8 330.0 735.8 330.7C736.7 331.4 737.6 332.1 738.5 332.4C739.5 332.8 740.4 332.8 741.3 332.8C742.2 332.8 743.2 332.8 744.1 332.5C745.0 332.3 745.9 331.7 746.9 331.1C747.8 330.6 748.7 329.8 749.6 329.2C750.6 328.5 751.5 327.8 752.4 327.2C753.3 326.5 754.3 325.9 755.2 325.5C756.1 325.0 757.0 324.5 758.0 324.5C758.9 324.5 759.8 325.1 760.7 325.7C761.7 326.3 762.6 327.1 763.5 327.9C764.4 328.7 765.4 329.5 766.3 330.3C767.2 331.2 768.1 332.1 769.1 332.8C770.0 333.5 770.9 334.0 771.8 334.4C772.8 334.7 773.7 334.7 774.6 334.7C775.5 334.7 776.5 334.7 777.4 334.5C778.3 334.2 779.2 333.6 780.2 333.1C781.1 332.5 782.0 331.7 782.9 331.1C783.9 330.4 784.8 329.7 785.7 329.1C786.7 328.4 787.6 327.8 788.5 327.3C789.4 326.9 790.4 326.3 791.3 326.4C792.2 326.4 793.1 327.0 794.1 327.6C795.0 328.2 795.9 329.1 796.8 329.9C797.8 330.8 798.7 331.7 799.6 332.5C800.5 333.4 801.5 334.4 802.4 335.1C803.3 335.8 804.2 336.4 805.2 336.7C806.1 337.1 807.0 337.1 807.9 337.1C808.9 337.1 809.8 337.1 810.7 336.8C811.6 336.5 812.6 335.8 813.5 335.1C814.4 334.4 815.3 333.5 816.3 332.7C817.2 331.9 818.1 331.0 819.0 330.3C820.0 329.5 821.3 328.6 821.8 328.2" stroke="#f2cc62" stroke-width="1.9" fill="none" stroke-linejoin="round" stroke-linecap="round"/><path d="M424.9 281.5C425.3 281.8 426.7 282.0 427.6 282.8C428.6 283.6 429.5 284.9 430.4 286.2C431.3 287.5 432.3 289.1 433.2 290.6C434.1 292.1 435.0 293.9 436.0 295.2C436.9 296.6 437.8 297.8 438.7 298.6C439.7 299.4 440.6 299.8 441.5 299.9C442.4 300.0 443.4 300.0 444.3 299.3C445.2 298.7 446.1 297.5 447.1 296.1C448.0 294.8 448.9 293.0 449.8 291.4C450.8 289.8 451.7 287.9 452.6 286.4C453.5 284.9 454.5 283.3 455.4 282.2C456.3 281.2 457.2 280.2 458.2 280.0C459.1 279.9 460.0 280.6 460.9 281.4C461.9 282.2 462.8 283.5 463.7 284.8C464.6 286.2 465.6 287.8 466.5 289.4C467.4 290.9 468.4 292.7 469.3 294.1C470.2 295.5 471.1 296.8 472.1 297.6C473.0 298.4 473.9 298.8 474.8 298.9C475.8 299.1 476.7 299.0 477.6 298.4C478.5 297.8 479.5 296.6 480.4 295.3C481.3 294.0 482.2 292.3 483.2 290.7C484.1 289.1 485.0 287.4 485.9 285.9C486.9 284.4 487.8 282.9 488.7 281.9C489.6 280.9 490.6 279.9 491.5 279.8C492.4 279.6 493.3 280.3 494.3 281.1C495.2 281.9 496.1 283.2 497.0 284.5C498.0 285.9 498.9 287.5 499.8 289.0C500.7 290.6 501.7 292.4 502.6 293.7C503.5 295.1 504.4 296.4 505.4 297.2C506.3 298.0 507.2 298.4 508.1 298.5C509.1 298.7 510.0 298.6 510.9 298.0C511.8 297.3 512.8 296.1 513.7 294.7C514.6 293.4 515.5 291.6 516.5 289.9C517.4 288.3 518.3 286.5 519.2 284.9C520.2 283.4 521.1 281.8 522.0 280.7C522.9 279.7 523.9 278.7 524.8 278.5C525.7 278.4 526.6 279.0 527.6 279.8C528.5 280.6 529.4 281.8 530.3 283.1C531.3 284.4 532.2 286.0 533.1 287.5C534.0 288.9 535.0 290.7 535.9 292.0C536.8 293.3 537.7 294.6 538.7 295.3C539.6 296.1 540.5 296.5 541.4 296.6C542.4 296.8 543.3 296.7 544.2 296.1C545.1 295.5 546.1 294.4 547.0 293.2C547.9 291.9 548.9 290.3 549.8 288.8C550.7 287.2 551.6 285.5 552.6 284.1C553.5 282.7 554.4 281.3 555.3 280.3C556.3 279.3 557.2 278.4 558.1 278.3C559.0 278.2 560.0 278.8 560.9 279.7C561.8 280.6 562.7 282.1 563.7 283.5C564.6 285.0 565.5 286.8 566.4 288.5C567.4 290.2 568.3 292.2 569.2 293.7C570.1 295.1 571.1 296.6 572.0 297.4C572.9 298.3 573.8 298.8 574.8 298.9C575.7 299.0 576.6 299.0 577.5 298.1C578.5 297.2 579.4 295.3 580.3 293.4C581.2 291.5 582.2 288.8 583.1 286.5C584.0 284.1 584.9 281.4 585.9 279.2C586.8 276.9 587.7 274.7 588.6 273.1C589.6 271.6 590.5 270.2 591.4 269.9C592.3 269.5 593.3 270.3 594.2 270.9C595.1 271.5 596.0 272.6 597.0 273.6C597.9 274.6 598.8 275.9 599.7 277.1C600.7 278.4 601.6 279.8 602.5 280.9C603.4 281.9 604.4 282.9 605.3 283.6C606.2 284.2 607.1 284.5 608.1 284.6C609.0 284.7 609.9 284.7 610.8 284.2C611.8 283.7 612.7 282.7 613.6 281.7C614.5 280.6 615.5 279.2 616.4 277.9C617.3 276.6 618.2 275.2 619.2 274.0C620.1 272.8 621.0 271.5 621.9 270.7C622.9 269.9 623.8 269.1 624.7 269.0C625.7 268.8 626.6 269.4 627.5 270.0C628.4 270.6 629.4 271.6 630.3 272.7C631.2 273.7 632.1 275.0 633.1 276.2C634.0 277.4 634.9 278.9 635.8 279.9C636.8 281.0 637.7 282.0 638.6 282.6C639.5 283.3 640.5 283.6 641.4 283.7C642.3 283.8 643.2 283.7 644.2 283.3C645.1 282.8 646.0 281.9 646.9 280.9C647.9 279.9 648.8 278.6 649.7 277.4C650.6 276.2 651.6 274.8 652.5 273.7C653.4 272.5 654.3 271.4 655.3 270.6C656.2 269.8 657.1 269.1 658.0 268.9C659.0 268.8 659.9 269.3 660.8 269.8C661.7 270.4 662.7 271.3 663.6 272.2C664.5 273.1 665.4 274.2 666.4 275.3C667.3 276.3 668.2 277.6 669.1 278.5C670.1 279.5 671.0 280.3 671.9 280.9C672.8 281.4 673.8 281.7 674.7 281.8C675.6 281.9 676.5 281.9 677.5 281.4C678.4 281.0 679.3 280.2 680.2 279.3C681.2 278.4 682.1 277.1 683.0 276.0C683.9 274.9 684.9 273.7 685.8 272.6C686.7 271.6 687.6 270.6 688.6 269.8C689.5 269.1 690.4 268.4 691.3 268.3C692.3 268.2 693.2 268.7 694.1 269.2C695.0 269.8 696.0 270.6 696.9 271.5C697.8 272.4 698.7 273.5 699.7 274.6C700.6 275.6 701.5 276.8 702.4 277.7C703.4 278.6 704.3 279.5 705.2 280.0C706.2 280.6 707.1 280.9 708.0 281.0C708.9 281.0 709.9 281.0 710.8 280.6C711.7 280.2 712.6 279.4 713.6 278.6C714.5 277.7 715.4 276.6 716.3 275.5C717.3 274.5 718.2 273.3 719.1 272.4C720.0 271.4 721.0 270.4 721.9 269.7C722.8 269.1 723.7 268.4 724.7 268.3C725.6 268.2 726.5 268.7 727.4 269.1C728.4 269.6 729.3 270.5 730.2 271.3C731.1 272.1 732.1 273.1 733.0 274.1C733.9 275.0 734.8 276.1 735.8 277.0C736.7 277.8 737.6 278.6 738.5 279.1C739.5 279.6 740.4 279.9 741.3 279.9C742.2 280.0 743.2 280.0 744.1 279.6C745.0 279.2 745.9 278.5 746.9 277.7C747.8 276.9 748.7 275.8 749.6 274.8C750.6 273.9 751.5 272.8 752.4 271.8C753.3 270.9 754.3 270.0 755.2 269.4C756.1 268.7 757.0 268.1 758.0 268.0C758.9 267.9 759.8 268.3 760.7 268.8C761.7 269.3 762.6 270.1 763.5 270.8C764.4 271.6 765.4 272.6 766.3 273.5C767.2 274.4 768.1 275.5 769.1 276.3C770.0 277.1 770.9 277.8 771.8 278.3C772.8 278.8 773.7 279.0 774.6 279.1C775.5 279.2 776.5 279.1 777.4 278.8C778.3 278.4 779.2 277.7 780.2 277.0C781.1 276.2 782.0 275.2 782.9 274.3C783.9 273.4 784.8 272.4 785.7 271.6C786.7 270.7 787.6 269.8 788.5 269.3C789.4 268.7 790.4 268.1 791.3 268.0C792.2 267.9 793.1 268.3 794.1 268.7C795.0 269.2 795.9 269.9 796.8 270.6C797.8 271.3 798.7 272.2 799.6 273.0C800.5 273.9 801.5 274.8 802.4 275.6C803.3 276.3 804.2 277.0 805.2 277.4C806.1 277.9 807.0 278.1 807.9 278.2C808.9 278.3 809.8 278.2 810.7 277.9C811.6 277.6 812.6 277.0 813.5 276.3C814.4 275.7 815.3 274.8 816.3 274.0C817.2 273.1 818.1 272.2 819.0 271.5C820.0 270.7 821.3 269.8 821.8 269.4" stroke="#e1573a" stroke-width="1.8" fill="none" stroke-linejoin="round" stroke-linecap="round"/><path d="M424.9 281.7C425.3 282.0 426.7 282.6 427.6 283.6C428.6 284.7 429.5 286.3 430.4 287.8C431.3 289.3 432.3 291.1 433.2 292.8C434.1 294.5 435.0 296.5 436.0 297.9C436.9 299.4 437.8 300.7 438.7 301.4C439.7 302.2 440.6 302.5 441.5 302.5C442.4 302.6 443.4 302.6 444.3 302.0C445.2 301.3 446.1 300.0 447.1 298.7C448.0 297.4 448.9 295.6 449.8 294.0C450.8 292.4 451.7 290.6 452.6 289.1C453.5 287.7 454.5 286.1 455.4 285.1C456.3 284.0 457.2 282.9 458.2 282.8C459.1 282.8 460.0 283.7 460.9 284.7C461.9 285.7 462.8 287.2 463.7 288.7C464.6 290.1 465.6 291.8 466.5 293.5C467.4 295.1 468.4 297.0 469.3 298.4C470.2 299.7 471.1 301.0 472.1 301.7C473.0 302.5 473.9 302.7 474.8 302.8C475.8 302.8 476.7 302.8 477.6 302.2C478.5 301.5 479.5 300.2 480.4 298.9C481.3 297.6 482.2 295.7 483.2 294.1C484.1 292.5 485.0 290.7 485.9 289.2C486.9 287.7 487.8 286.1 488.7 285.1C489.6 284.0 490.6 282.9 491.5 282.8C492.4 282.8 493.3 283.7 494.3 284.7C495.2 285.7 496.1 287.2 497.0 288.7C498.0 290.1 498.9 291.8 499.8 293.5C500.7 295.1 501.7 297.0 502.6 298.4C503.5 299.7 504.4 301.0 505.4 301.7C506.3 302.5 507.2 302.7 508.1 302.8C509.1 302.8 510.0 302.8 510.9 302.2C511.8 301.5 512.8 300.2 513.7 298.9C514.6 297.6 515.5 295.7 516.5 294.1C517.4 292.5 518.3 290.7 519.2 289.2C520.2 287.7 521.1 286.1 522.0 285.1C522.9 284.0 523.9 282.9 524.8 282.8C525.7 282.8 526.6 283.7 527.6 284.7C528.5 285.7 529.4 287.2 530.3 288.7C531.3 290.1 532.2 291.8 533.1 293.5C534.0 295.1 535.0 297.0 535.9 298.4C536.8 299.7 537.7 301.0 538.7 301.7C539.6 302.5 540.5 302.7 541.4 302.8C542.4 302.8 543.3 302.8 544.2 302.2C545.1 301.5 546.1 300.2 547.0 298.9C547.9 297.6 548.9 295.7 549.8 294.1C550.7 292.5 551.6 290.7 552.6 289.2C553.5 287.7 554.4 286.1 555.3 285.1C556.3 284.0 557.2 282.9 558.1 282.8C559.0 282.8 560.0 283.7 560.9 284.7C561.8 285.7 562.7 287.2 563.7 288.7C564.6 290.1 565.5 291.8 566.4 293.5C567.4 295.1 568.3 297.0 569.2 298.4C570.1 299.7 571.1 301.0 572.0 301.7C572.9 302.5 573.8 302.7 574.8 302.8C575.7 302.8 576.6 302.8 577.5 302.2C578.5 301.5 579.4 300.2 580.3 298.9C581.2 297.6 582.2 295.7 583.1 294.1C584.0 292.5 584.9 290.7 585.9 289.2C586.8 287.7 587.7 286.1 588.6 285.1C589.6 284.0 590.5 282.9 591.4 282.8C592.3 282.8 593.3 283.7 594.2 284.7C595.1 285.7 596.0 287.3 597.0 288.8C597.9 290.3 598.8 292.1 599.7 293.7C600.7 295.4 601.6 297.4 602.5 298.8C603.4 300.2 604.4 301.5 605.3 302.2C606.2 303.0 607.1 303.2 608.1 303.3C609.0 303.4 609.9 303.4 610.8 302.7C611.8 302.0 612.7 300.7 613.6 299.3C614.5 297.9 615.5 296.1 616.4 294.4C617.3 292.8 618.2 290.9 619.2 289.4C620.1 287.8 621.0 286.2 621.9 285.1C622.9 284.1 623.8 282.9 624.7 282.8C625.7 282.8 626.6 283.8 627.5 284.8C628.4 285.8 629.4 287.5 630.3 289.1C631.2 290.6 632.1 292.4 633.1 294.1C634.0 295.9 634.9 297.9 635.8 299.4C636.8 300.8 637.7 302.1 638.6 302.9C639.5 303.7 640.5 304.0 641.4 304.0C642.3 304.1 643.2 304.1 644.2 303.4C645.1 302.7 646.0 301.4 646.9 299.9C647.9 298.5 648.8 296.6 649.7 294.8C650.6 293.1 651.6 291.2 652.5 289.6C653.4 288.0 654.3 286.4 655.3 285.2C656.2 284.1 657.1 282.9 658.0 282.8C659.0 282.8 659.9 283.8 660.8 284.8C661.7 285.8 662.7 287.5 663.6 289.1C664.5 290.6 665.4 292.4 666.4 294.1C667.3 295.9 668.2 297.9 669.1 299.4C670.1 300.8 671.0 302.1 671.9 302.9C672.8 303.7 673.8 304.0 674.7 304.0C675.6 304.1 676.5 304.1 677.5 303.4C678.4 302.7 679.3 301.4 680.2 299.9C681.2 298.5 682.1 296.6 683.0 294.8C683.9 293.1 684.9 291.2 685.8 289.6C686.7 288.0 687.6 286.4 688.6 285.2C689.5 284.1 690.4 282.9 691.3 282.8C692.3 282.8 693.2 283.8 694.1 284.8C695.0 285.8 696.0 287.5 696.9 289.1C697.8 290.6 698.7 292.4 699.7 294.1C700.6 295.9 701.5 297.9 702.4 299.4C703.4 300.8 704.3 302.1 705.2 302.9C706.2 303.7 707.1 304.0 708.0 304.0C708.9 304.1 709.9 304.1 710.8 303.4C711.7 302.7 712.6 301.4 713.6 299.9C714.5 298.5 715.4 296.6 716.3 294.8C717.3 293.1 718.2 291.2 719.1 289.6C720.0 288.0 721.0 286.4 721.9 285.2C722.8 284.1 723.7 282.9 724.7 282.8C725.6 282.8 726.5 283.8 727.4 284.8C728.4 285.8 729.3 287.5 730.2 289.1C731.1 290.6 732.1 292.4 733.0 294.1C733.9 295.9 734.8 297.9 735.8 299.4C736.7 300.8 737.6 302.1 738.5 302.9C739.5 303.7 740.4 304.0 741.3 304.0C742.2 304.1 743.2 304.1 744.1 303.5C745.0 302.9 745.9 301.7 746.9 300.5C747.8 299.2 748.7 297.6 749.6 296.1C750.6 294.6 751.5 293.3 752.4 291.5C753.3 289.8 754.7 286.6 755.2 285.6L758.0 302.3L760.7 302.3L763.5 302.3L766.3 302.3L769.1 302.3L771.8 302.3L774.6 302.3L777.4 302.3L780.2 299.1L782.9 295.1L785.7 291.0L788.5 287.5L791.3 302.3L794.1 302.3L796.8 302.3L799.6 302.3L802.4 302.3L805.2 302.3L807.9 302.3L810.7 302.3L813.5 298.8L816.3 294.5L819.0 290.1L821.8 286.4" stroke="#3d9b88" stroke-width="1.45" fill="none" stroke-linejoin="round"/><path d="M424.9 281.7C425.3 282.0 426.7 282.5 427.6 283.4C428.6 284.4 429.5 286.0 430.4 287.5C431.3 289.0 432.3 290.9 433.2 292.6C434.1 294.4 435.0 296.4 436.0 298.0C436.9 299.5 437.8 300.9 438.7 301.8C439.7 302.6 440.6 303.0 441.5 303.1C442.4 303.3 443.4 303.2 444.3 302.6C445.2 302.0 446.1 300.8 447.1 299.5C448.0 298.3 448.9 296.6 449.8 295.0C450.8 293.5 451.7 291.8 452.6 290.4C453.5 288.9 454.5 287.5 455.4 286.5C456.3 285.5 457.2 284.5 458.2 284.4C459.1 284.3 460.0 285.0 460.9 285.9C461.9 286.7 462.8 288.2 463.7 289.6C464.6 290.9 465.6 292.6 466.5 294.2C467.4 295.8 468.4 297.6 469.3 299.0C470.2 300.4 471.1 301.6 472.1 302.4C473.0 303.2 473.9 303.5 474.8 303.7C475.8 303.8 476.7 303.7 477.6 303.1C478.5 302.6 479.5 301.4 480.4 300.2C481.3 299.0 482.2 297.4 483.2 295.9C484.1 294.4 485.0 292.8 485.9 291.4C486.9 290.1 487.8 288.6 488.7 287.7C489.6 286.7 490.6 285.8 491.5 285.7C492.4 285.6 493.3 286.3 494.3 287.1C495.2 287.9 496.1 289.3 497.0 290.6C498.0 291.9 498.9 293.5 499.8 295.0C500.7 296.5 501.7 298.2 502.6 299.5C503.5 300.8 504.4 302.1 505.4 302.8C506.3 303.5 507.2 303.9 508.1 304.0C509.1 304.1 510.0 304.0 510.9 303.5C511.8 302.9 512.8 301.8 513.7 300.6C514.6 299.5 515.5 297.9 516.5 296.5C517.4 295.0 518.3 293.4 519.2 292.1C520.2 290.8 521.1 289.4 522.0 288.5C522.9 287.6 523.9 286.6 524.8 286.5C525.7 286.5 526.6 287.1 527.6 287.9C528.5 288.7 529.4 290.0 530.3 291.3C531.3 292.5 532.2 294.0 533.1 295.4C534.0 296.9 535.0 298.6 535.9 299.8C536.8 301.1 537.7 302.2 538.7 302.9C539.6 303.6 540.5 303.9 541.4 304.0C542.4 304.2 543.3 304.1 544.2 303.6C545.1 303.1 546.1 302.1 547.0 301.0C547.9 299.9 548.9 298.4 549.8 297.1C550.7 295.8 551.6 294.4 552.6 293.2C553.5 291.9 554.4 290.7 555.3 289.8C556.3 289.0 557.2 288.1 558.1 288.1C559.0 288.0 560.0 288.6 560.9 289.4C561.8 290.1 562.7 291.3 563.7 292.5C564.6 293.7 565.5 295.1 566.4 296.5C567.4 297.8 568.3 299.4 569.2 300.6C570.1 301.8 571.1 302.9 572.0 303.6C572.9 304.2 573.8 304.5 574.8 304.6C575.7 304.8 576.6 304.7 577.5 304.2C578.5 303.7 579.4 302.7 580.3 301.7C581.2 300.7 582.2 299.3 583.1 298.0C584.0 296.8 584.9 295.4 585.9 294.2C586.8 293.1 587.7 291.8 588.6 291.0C589.6 290.2 590.5 289.4 591.4 289.3C592.3 289.2 593.3 289.9 594.2 290.6C595.1 291.3 596.0 292.4 597.0 293.5C597.9 294.7 598.8 296.0 599.7 297.3C600.7 298.6 601.6 300.1 602.5 301.2C603.4 302.3 604.4 303.3 605.3 303.9C606.2 304.6 607.1 304.9 608.1 304.9C609.0 305.0 609.9 305.0 610.8 304.5C611.8 304.1 612.7 303.1 613.6 302.1C614.5 301.1 615.5 299.8 616.4 298.6C617.3 297.4 618.2 296.1 619.2 294.9C620.1 293.8 621.0 292.7 621.9 291.9C622.9 291.1 623.8 290.3 624.7 290.2C625.7 290.2 626.6 290.7 627.5 291.4C628.4 292.0 629.4 293.1 630.3 294.2C631.2 295.2 632.1 296.5 633.1 297.7C634.0 298.9 634.9 300.3 635.8 301.4C636.8 302.4 637.7 303.4 638.6 304.0C639.5 304.6 640.5 304.9 641.4 305.0C642.3 305.0 643.2 305.0 644.2 304.6C645.1 304.1 646.0 303.3 646.9 302.4C647.9 301.5 648.8 300.3 649.7 299.2C650.6 298.1 651.6 296.9 652.5 295.8C653.4 294.8 654.3 293.8 655.3 293.0C656.2 292.3 657.1 291.6 658.0 291.5C659.0 291.5 659.9 292.0 660.8 292.6C661.7 293.3 662.7 294.3 663.6 295.3C664.5 296.3 665.4 297.5 666.4 298.7C667.3 299.8 668.2 301.2 669.1 302.2C670.1 303.2 671.0 304.1 671.9 304.7C672.8 305.2 673.8 305.5 674.7 305.6C675.6 305.6 676.5 305.6 677.5 305.2C678.4 304.8 679.3 303.9 680.2 303.1C681.2 302.2 682.1 301.0 683.0 300.0C683.9 298.9 684.9 297.7 685.8 296.8C686.7 295.8 687.6 294.8 688.6 294.1C689.5 293.4 690.4 292.7 691.3 292.6C692.3 292.6 693.2 293.1 694.1 293.7C695.0 294.2 696.0 295.2 696.9 296.1C697.8 297.0 698.7 298.2 699.7 299.2C700.6 300.3 701.5 301.5 702.4 302.4C703.4 303.4 704.3 304.2 705.2 304.7C706.2 305.3 707.1 305.5 708.0 305.6C708.9 305.6 709.9 305.6 710.8 305.2C711.7 304.9 712.6 304.1 713.6 303.3C714.5 302.6 715.4 301.5 716.3 300.6C717.3 299.6 718.2 298.5 719.1 297.7C720.0 296.8 721.0 295.9 721.9 295.2C722.8 294.6 723.7 294.0 724.7 294.0C725.6 293.9 726.5 294.4 727.4 294.9C728.4 295.5 729.3 296.4 730.2 297.3C731.1 298.2 732.1 299.3 733.0 300.3C733.9 301.3 734.8 302.5 735.8 303.4C736.7 304.3 737.6 305.2 738.5 305.7C739.5 306.2 740.4 306.4 741.3 306.5C742.2 306.5 743.2 306.5 744.1 306.1C745.0 305.8 745.9 305.0 746.9 304.3C747.8 303.5 748.7 302.4 749.6 301.5C750.6 300.6 751.5 299.5 752.4 298.6C753.3 297.7 754.3 296.8 755.2 296.2C756.1 295.6 757.0 295.0 758.0 294.9C758.9 294.9 759.8 295.3 760.7 295.9C761.7 296.4 762.6 297.3 763.5 298.1C764.4 299.0 765.4 300.0 766.3 301.0C767.2 302.0 768.1 303.1 769.1 304.0C770.0 304.8 770.9 305.6 771.8 306.1C772.8 306.6 773.7 306.8 774.6 306.9C775.5 307.0 776.5 306.9 777.4 306.6C778.3 306.3 779.2 305.6 780.2 304.9C781.1 304.3 782.0 303.3 782.9 302.5C783.9 301.7 784.8 300.8 785.7 300.0C786.7 299.2 787.6 298.4 788.5 297.9C789.4 297.3 790.4 296.8 791.3 296.7C792.2 296.7 793.1 297.1 794.1 297.6C795.0 298.1 795.9 298.9 796.8 299.6C797.8 300.4 798.7 301.3 799.6 302.2C800.5 303.1 801.5 304.1 802.4 304.9C803.3 305.7 804.2 306.4 805.2 306.8C806.1 307.2 807.0 307.4 807.9 307.5C808.9 307.6 809.8 307.5 810.7 307.2C811.6 306.9 812.6 306.3 813.5 305.7C814.4 305.0 815.3 304.1 816.3 303.4C817.2 302.6 818.1 301.7 819.0 301.0C820.0 300.2 821.3 299.3 821.8 299.0" stroke="#2d4c5e" stroke-width="1.5" fill="none" stroke-linejoin="round" stroke-linecap="round"/><path d="M225.0 271.1C225.5 271.7 226.8 272.9 227.8 274.6C228.7 276.3 229.6 278.8 230.6 281.0C231.5 283.3 232.4 285.7 233.3 288.0C234.3 290.4 235.2 293.2 236.1 295.1C237.0 297.0 238.0 298.6 238.9 299.4C239.8 300.3 240.7 300.3 241.7 300.3C242.6 300.3 243.5 300.4 244.4 299.5C245.4 298.6 246.3 296.8 247.2 294.9C248.1 293.0 249.1 290.6 250.0 288.4C250.9 286.2 251.8 283.9 252.8 281.9C253.7 279.9 254.6 277.8 255.5 276.3C256.5 274.9 257.4 273.2 258.3 273.2C259.2 273.2 260.2 274.9 261.1 276.5C262.0 278.0 262.9 280.4 263.9 282.5C264.8 284.6 265.7 286.9 266.6 289.0C267.6 291.2 268.5 293.8 269.4 295.6C270.3 297.4 271.3 298.9 272.2 299.7C273.1 300.5 274.0 300.5 275.0 300.5C275.9 300.5 276.8 300.6 277.7 299.7C278.7 298.9 279.6 297.1 280.5 295.4C281.4 293.6 282.4 291.3 283.3 289.2C284.2 287.2 285.1 285.0 286.1 283.1C287.0 281.2 287.9 279.2 288.8 277.8C289.8 276.5 290.7 274.9 291.6 274.9C292.5 274.9 293.5 276.6 294.4 278.0C295.3 279.5 296.2 281.8 297.2 283.8C298.1 285.8 299.0 288.0 299.9 290.1C300.9 292.2 301.8 294.7 302.7 296.4C303.6 298.1 304.6 299.5 305.5 300.3C306.4 301.1 307.3 301.1 308.3 301.1C309.2 301.1 310.1 301.2 311.1 300.3C312.0 299.5 312.9 297.8 313.8 296.1C314.8 294.4 315.7 292.1 316.6 290.1C317.5 288.1 318.5 286.0 319.4 284.2C320.3 282.3 321.2 280.4 322.2 279.1C323.1 277.7 324.0 276.2 324.9 276.2C325.9 276.2 326.8 277.8 327.7 279.2C328.6 280.7 329.6 282.9 330.5 284.8C331.4 286.7 332.3 288.8 333.3 290.9C334.2 292.9 335.1 295.3 336.0 296.9C337.0 298.5 337.9 299.9 338.8 300.7C339.7 301.5 340.7 301.4 341.6 301.5C342.5 301.5 343.4 301.5 344.4 300.8C345.3 300.1 346.2 298.7 347.1 297.2C348.1 295.8 349.0 293.9 349.9 292.2C350.8 290.5 351.8 288.7 352.7 287.1C353.6 285.5 354.5 283.9 355.5 282.8C356.4 281.7 357.3 280.3 358.2 280.4C359.2 280.4 360.1 281.8 361.0 283.1C361.9 284.4 362.9 286.4 363.8 288.2C364.7 289.9 365.6 291.8 366.6 293.7C367.5 295.5 368.4 297.7 369.3 299.2C370.3 300.7 371.2 302.0 372.1 302.6C373.0 303.3 374.0 303.3 374.9 303.3C375.8 303.3 376.7 303.4 377.7 302.7C378.6 302.0 379.5 300.5 380.4 299.0C381.4 297.6 382.3 295.6 383.2 293.9C384.1 292.2 385.1 290.3 386.0 288.7C386.9 287.1 387.8 285.5 388.8 284.3C389.7 283.2 390.6 281.8 391.6 281.9C392.5 281.9 393.4 283.2 394.3 284.4C395.3 285.7 396.2 287.5 397.1 289.2C398.0 290.8 399.0 292.6 399.9 294.3C400.8 296.0 401.7 298.1 402.7 299.5C403.6 300.9 404.5 302.0 405.4 302.7C406.4 303.3 407.3 303.3 408.2 303.3C409.1 303.3 410.1 303.4 411.0 302.7C411.9 302.0 412.8 300.5 413.8 299.0C414.7 297.5 415.6 295.5 416.5 293.7C417.5 292.0 418.4 290.1 419.3 288.5C420.2 286.9 421.6 284.7 422.1 284.0" stroke="#8c2f7e" stroke-width="1.45" fill="none" stroke-linejoin="round" stroke-linecap="round"/><circle cx="357.8" cy="280.2" r="1.35" fill="#e0664f"/><circle cx="402.1" cy="300.3" r="1.35" fill="#e0664f"/><g font-family="Liberation Sans, sans-serif" font-size="6.6" fill="#2b2b2b"><text transform="translate(191.75 385.3) rotate(-90)" textLength="28.6" lengthAdjust="spacingAndGlyphs">CY Jan-FY</text><text transform="translate(191.45 355.2) rotate(-90)" fill="#9a9a9a" font-size="6" textLength="4.6" lengthAdjust="spacingAndGlyphs">…</text><text transform="translate(200.08 385.3) rotate(-90)" textLength="28.6" lengthAdjust="spacingAndGlyphs">CY Apr-FY</text><text transform="translate(199.78 355.2) rotate(-90)" fill="#9a9a9a" font-size="6" textLength="4.6" lengthAdjust="spacingAndGlyphs">…</text><text transform="translate(208.41 385.3) rotate(-90)" textLength="33.0" lengthAdjust="spacingAndGlyphs">CY Jul-FY 1</text><text transform="translate(216.73 385.3) rotate(-90)" textLength="28.6" lengthAdjust="spacingAndGlyphs">CY Oct-FY</text><text transform="translate(216.43 355.2) rotate(-90)" fill="#9a9a9a" font-size="6" textLength="4.6" lengthAdjust="spacingAndGlyphs">…</text><text transform="translate(225.06 385.3) rotate(-90)" textLength="28.6" lengthAdjust="spacingAndGlyphs">CY Jan-FY</text><text transform="translate(224.76 355.2) rotate(-90)" fill="#9a9a9a" font-size="6" textLength="4.6" lengthAdjust="spacingAndGlyphs">…</text><text transform="translate(233.39 385.3) rotate(-90)" textLength="28.6" lengthAdjust="spacingAndGlyphs">CY Apr-FY</text><text transform="translate(233.09 355.2) rotate(-90)" fill="#9a9a9a" font-size="6" textLength="4.6" lengthAdjust="spacingAndGlyphs">…</text><text transform="translate(241.72 385.3) rotate(-90)" textLength="33.0" lengthAdjust="spacingAndGlyphs">CY Jul-FY 1</text><text transform="translate(250.04 385.3) rotate(-90)" textLength="28.6" lengthAdjust="spacingAndGlyphs">CY Oct-FY</text><text transform="translate(249.74 355.2) rotate(-90)" fill="#9a9a9a" font-size="6" textLength="4.6" lengthAdjust="spacingAndGlyphs">…</text><text transform="translate(258.37 385.3) rotate(-90)" textLength="28.6" lengthAdjust="spacingAndGlyphs">CY Jan-FY</text><text transform="translate(258.07 355.2) rotate(-90)" fill="#9a9a9a" font-size="6" textLength="4.6" lengthAdjust="spacingAndGlyphs">…</text><text transform="translate(266.70 385.3) rotate(-90)" textLength="28.6" lengthAdjust="spacingAndGlyphs">CY Apr-FY</text><text transform="translate(266.40 355.2) rotate(-90)" fill="#9a9a9a" font-size="6" textLength="4.6" lengthAdjust="spacingAndGlyphs">…</text><text transform="translate(275.03 385.3) rotate(-90)" textLength="33.0" lengthAdjust="spacingAndGlyphs">CY Jul-FY 1</text><text transform="translate(283.35 385.3) rotate(-90)" textLength="28.6" lengthAdjust="spacingAndGlyphs">CY Oct-FY</text><text transform="translate(283.05 355.2) rotate(-90)" fill="#9a9a9a" font-size="6" textLength="4.6" lengthAdjust="spacingAndGlyphs">…</text><text transform="translate(291.68 385.3) rotate(-90)" textLength="28.6" lengthAdjust="spacingAndGlyphs">CY Jan-FY</text><text transform="translate(291.38 355.2) rotate(-90)" fill="#9a9a9a" font-size="6" textLength="4.6" lengthAdjust="spacingAndGlyphs">…</text><text transform="translate(300.01 385.3) rotate(-90)" textLength="28.6" lengthAdjust="spacingAndGlyphs">CY Apr-FY</text><text transform="translate(299.71 355.2) rotate(-90)" fill="#9a9a9a" font-size="6" textLength="4.6" lengthAdjust="spacingAndGlyphs">…</text><text transform="translate(308.34 385.3) rotate(-90)" textLength="33.0" lengthAdjust="spacingAndGlyphs">CY Jul-FY 1</text><text transform="translate(316.66 385.3) rotate(-90)" textLength="28.6" lengthAdjust="spacingAndGlyphs">CY Oct-FY</text><text transform="translate(316.36 355.2) rotate(-90)" fill="#9a9a9a" font-size="6" textLength="4.6" lengthAdjust="spacingAndGlyphs">…</text><text transform="translate(324.99 385.3) rotate(-90)" textLength="28.6" lengthAdjust="spacingAndGlyphs">CY Jan-FY</text><text transform="translate(324.69 355.2) rotate(-90)" fill="#9a9a9a" font-size="6" textLength="4.6" lengthAdjust="spacingAndGlyphs">…</text><text transform="translate(333.32 385.3) rotate(-90)" textLength="28.6" lengthAdjust="spacingAndGlyphs">CY Apr-FY</text><text transform="translate(333.02 355.2) rotate(-90)" fill="#9a9a9a" font-size="6" textLength="4.6" lengthAdjust="spacingAndGlyphs">…</text><text transform="translate(341.65 385.3) rotate(-90)" textLength="33.0" lengthAdjust="spacingAndGlyphs">CY Jul-FY 1</text><text transform="translate(349.98 385.3) rotate(-90)" textLength="28.6" lengthAdjust="spacingAndGlyphs">CY Oct-FY</text><text transform="translate(349.68 355.2) rotate(-90)" fill="#9a9a9a" font-size="6" textLength="4.6" lengthAdjust="spacingAndGlyphs">…</text><text transform="translate(358.30 385.3) rotate(-90)" textLength="28.6" lengthAdjust="spacingAndGlyphs">CY Jan-FY</text><text transform="translate(358.00 355.2) rotate(-90)" fill="#9a9a9a" font-size="6" textLength="4.6" lengthAdjust="spacingAndGlyphs">…</text><text transform="translate(366.63 385.3) rotate(-90)" textLength="28.6" lengthAdjust="spacingAndGlyphs">CY Apr-FY</text><text transform="translate(366.33 355.2) rotate(-90)" fill="#9a9a9a" font-size="6" textLength="4.6" lengthAdjust="spacingAndGlyphs">…</text><text transform="translate(374.96 385.3) rotate(-90)" textLength="33.0" lengthAdjust="spacingAndGlyphs">CY Jul-FY 1</text><text transform="translate(383.29 385.3) rotate(-90)" textLength="28.6" lengthAdjust="spacingAndGlyphs">CY Oct-FY</text><text transform="translate(382.99 355.2) rotate(-90)" fill="#9a9a9a" font-size="6" textLength="4.6" lengthAdjust="spacingAndGlyphs">…</text><text transform="translate(391.61 385.3) rotate(-90)" textLength="28.6" lengthAdjust="spacingAndGlyphs">CY Jan-FY</text><text transform="translate(391.31 355.2) rotate(-90)" fill="#9a9a9a" font-size="6" textLength="4.6" lengthAdjust="spacingAndGlyphs">…</text><text transform="translate(399.94 385.3) rotate(-90)" textLength="28.6" lengthAdjust="spacingAndGlyphs">CY Apr-FY</text><text transform="translate(399.64 355.2) rotate(-90)" fill="#9a9a9a" font-size="6" textLength="4.6" lengthAdjust="spacingAndGlyphs">…</text><text transform="translate(408.27 385.3) rotate(-90)" textLength="33.0" lengthAdjust="spacingAndGlyphs">CY Jul-FY 1</text><text transform="translate(416.60 385.3) rotate(-90)" textLength="28.6" lengthAdjust="spacingAndGlyphs">CY Oct-FY</text><text transform="translate(416.30 355.2) rotate(-90)" fill="#9a9a9a" font-size="6" textLength="4.6" lengthAdjust="spacingAndGlyphs">…</text><text transform="translate(424.92 385.3) rotate(-90)" textLength="28.6" lengthAdjust="spacingAndGlyphs">CY Jan-FY</text><text transform="translate(424.62 355.2) rotate(-90)" fill="#9a9a9a" font-size="6" textLength="4.6" lengthAdjust="spacingAndGlyphs">…</text><text transform="translate(433.25 385.3) rotate(-90)" textLength="28.6" lengthAdjust="spacingAndGlyphs">CY Apr-FY</text><text transform="translate(432.95 355.2) rotate(-90)" fill="#9a9a9a" font-size="6" textLength="4.6" lengthAdjust="spacingAndGlyphs">…</text><text transform="translate(441.58 385.3) rotate(-90)" textLength="33.0" lengthAdjust="spacingAndGlyphs">CY Jul-FY 1</text><text transform="translate(449.91 385.3) rotate(-90)" textLength="28.6" lengthAdjust="spacingAndGlyphs">CY Oct-FY</text><text transform="translate(449.61 355.2) rotate(-90)" fill="#9a9a9a" font-size="6" textLength="4.6" lengthAdjust="spacingAndGlyphs">…</text><text transform="translate(458.23 385.3) rotate(-90)" textLength="28.6" lengthAdjust="spacingAndGlyphs">CY Jan-FY</text><text transform="translate(457.93 355.2) rotate(-90)" fill="#9a9a9a" font-size="6" textLength="4.6" lengthAdjust="spacingAndGlyphs">…</text><text transform="translate(466.56 385.3) rotate(-90)" textLength="28.6" lengthAdjust="spacingAndGlyphs">CY Apr-FY</text><text transform="translate(466.26 355.2) rotate(-90)" fill="#9a9a9a" font-size="6" textLength="4.6" lengthAdjust="spacingAndGlyphs">…</text><text transform="translate(474.89 385.3) rotate(-90)" textLength="33.0" lengthAdjust="spacingAndGlyphs">CY Jul-FY 1</text><text transform="translate(483.22 385.3) rotate(-90)" textLength="28.6" lengthAdjust="spacingAndGlyphs">CY Oct-FY</text><text transform="translate(482.92 355.2) rotate(-90)" fill="#9a9a9a" font-size="6" textLength="4.6" lengthAdjust="spacingAndGlyphs">…</text><text transform="translate(491.54 385.3) rotate(-90)" textLength="28.6" lengthAdjust="spacingAndGlyphs">CY Jan-FY</text><text transform="translate(491.24 355.2) rotate(-90)" fill="#9a9a9a" font-size="6" textLength="4.6" lengthAdjust="spacingAndGlyphs">…</text><text transform="translate(499.87 385.3) rotate(-90)" textLength="28.6" lengthAdjust="spacingAndGlyphs">CY Apr-FY</text><text transform="translate(499.57 355.2) rotate(-90)" fill="#9a9a9a" font-size="6" textLength="4.6" lengthAdjust="spacingAndGlyphs">…</text><text transform="translate(508.20 385.3) rotate(-90)" textLength="33.0" lengthAdjust="spacingAndGlyphs">CY Jul-FY 1</text><text transform="translate(516.53 385.3) rotate(-90)" textLength="28.6" lengthAdjust="spacingAndGlyphs">CY Oct-FY</text><text transform="translate(516.23 355.2) rotate(-90)" fill="#9a9a9a" font-size="6" textLength="4.6" lengthAdjust="spacingAndGlyphs">…</text><text transform="translate(524.86 385.3) rotate(-90)" textLength="28.6" lengthAdjust="spacingAndGlyphs">CY Jan-FY</text><text transform="translate(524.56 355.2) rotate(-90)" fill="#9a9a9a" font-size="6" textLength="4.6" lengthAdjust="spacingAndGlyphs">…</text><text transform="translate(533.18 385.3) rotate(-90)" textLength="28.6" lengthAdjust="spacingAndGlyphs">CY Apr-FY</text><text transform="translate(532.88 355.2) rotate(-90)" fill="#9a9a9a" font-size="6" textLength="4.6" lengthAdjust="spacingAndGlyphs">…</text><text transform="translate(541.51 385.3) rotate(-90)" textLength="33.0" lengthAdjust="spacingAndGlyphs">CY Jul-FY 1</text><text transform="translate(549.84 385.3) rotate(-90)" textLength="28.6" lengthAdjust="spacingAndGlyphs">CY Oct-FY</text><text transform="translate(549.54 355.2) rotate(-90)" fill="#9a9a9a" font-size="6" textLength="4.6" lengthAdjust="spacingAndGlyphs">…</text><text transform="translate(558.17 385.3) rotate(-90)" textLength="28.6" lengthAdjust="spacingAndGlyphs">CY Jan-FY</text><text transform="translate(557.87 355.2) rotate(-90)" fill="#9a9a9a" font-size="6" textLength="4.6" lengthAdjust="spacingAndGlyphs">…</text><text transform="translate(566.49 385.3) rotate(-90)" textLength="28.6" lengthAdjust="spacingAndGlyphs">CY Apr-FY</text><text transform="translate(566.19 355.2) rotate(-90)" fill="#9a9a9a" font-size="6" textLength="4.6" lengthAdjust="spacingAndGlyphs">…</text><text transform="translate(574.82 385.3) rotate(-90)" textLength="33.0" lengthAdjust="spacingAndGlyphs">CY Jul-FY 1</text><text transform="translate(583.15 385.3) rotate(-90)" textLength="28.6" lengthAdjust="spacingAndGlyphs">CY Oct-FY</text><text transform="translate(582.85 355.2) rotate(-90)" fill="#9a9a9a" font-size="6" textLength="4.6" lengthAdjust="spacingAndGlyphs">…</text><text transform="translate(591.48 385.3) rotate(-90)" textLength="28.6" lengthAdjust="spacingAndGlyphs">CY Jan-FY</text><text transform="translate(591.18 355.2) rotate(-90)" fill="#9a9a9a" font-size="6" textLength="4.6" lengthAdjust="spacingAndGlyphs">…</text><text transform="translate(599.80 385.3) rotate(-90)" textLength="28.6" lengthAdjust="spacingAndGlyphs">CY Apr-FY</text><text transform="translate(599.50 355.2) rotate(-90)" fill="#9a9a9a" font-size="6" textLength="4.6" lengthAdjust="spacingAndGlyphs">…</text><text transform="translate(608.13 385.3) rotate(-90)" textLength="33.0" lengthAdjust="spacingAndGlyphs">CY Jul-FY 1</text><text transform="translate(616.46 385.3) rotate(-90)" textLength="28.6" lengthAdjust="spacingAndGlyphs">CY Oct-FY</text><text transform="translate(616.16 355.2) rotate(-90)" fill="#9a9a9a" font-size="6" textLength="4.6" lengthAdjust="spacingAndGlyphs">…</text><text transform="translate(624.79 385.3) rotate(-90)" textLength="28.6" lengthAdjust="spacingAndGlyphs">CY Jan-FY</text><text transform="translate(624.49 355.2) rotate(-90)" fill="#9a9a9a" font-size="6" textLength="4.6" lengthAdjust="spacingAndGlyphs">…</text><text transform="translate(633.11 385.3) rotate(-90)" textLength="28.6" lengthAdjust="spacingAndGlyphs">CY Apr-FY</text><text transform="translate(632.81 355.2) rotate(-90)" fill="#9a9a9a" font-size="6" textLength="4.6" lengthAdjust="spacingAndGlyphs">…</text><text transform="translate(641.44 385.3) rotate(-90)" textLength="33.0" lengthAdjust="spacingAndGlyphs">CY Jul-FY 1</text><text transform="translate(649.77 385.3) rotate(-90)" textLength="28.6" lengthAdjust="spacingAndGlyphs">CY Oct-FY</text><text transform="translate(649.47 355.2) rotate(-90)" fill="#9a9a9a" font-size="6" textLength="4.6" lengthAdjust="spacingAndGlyphs">…</text><text transform="translate(658.10 385.3) rotate(-90)" textLength="28.6" lengthAdjust="spacingAndGlyphs">CY Jan-FY</text><text transform="translate(657.80 355.2) rotate(-90)" fill="#9a9a9a" font-size="6" textLength="4.6" lengthAdjust="spacingAndGlyphs">…</text><text transform="translate(666.43 385.3) rotate(-90)" textLength="28.6" lengthAdjust="spacingAndGlyphs">CY Apr-FY</text><text transform="translate(666.13 355.2) rotate(-90)" fill="#9a9a9a" font-size="6" textLength="4.6" lengthAdjust="spacingAndGlyphs">…</text><text transform="translate(674.75 385.3) rotate(-90)" textLength="33.0" lengthAdjust="spacingAndGlyphs">CY Jul-FY 1</text><text transform="translate(683.08 385.3) rotate(-90)" textLength="28.6" lengthAdjust="spacingAndGlyphs">CY Oct-FY</text><text transform="translate(682.78 355.2) rotate(-90)" fill="#9a9a9a" font-size="6" textLength="4.6" lengthAdjust="spacingAndGlyphs">…</text><text transform="translate(691.41 385.3) rotate(-90)" textLength="28.6" lengthAdjust="spacingAndGlyphs">CY Jan-FY</text><text transform="translate(691.11 355.2) rotate(-90)" fill="#9a9a9a" font-size="6" textLength="4.6" lengthAdjust="spacingAndGlyphs">…</text><text transform="translate(699.74 385.3) rotate(-90)" textLength="28.6" lengthAdjust="spacingAndGlyphs">CY Apr-FY</text><text transform="translate(699.44 355.2) rotate(-90)" fill="#9a9a9a" font-size="6" textLength="4.6" lengthAdjust="spacingAndGlyphs">…</text><text transform="translate(708.06 385.3) rotate(-90)" textLength="33.0" lengthAdjust="spacingAndGlyphs">CY Jul-FY 1</text><text transform="translate(716.39 385.3) rotate(-90)" textLength="28.6" lengthAdjust="spacingAndGlyphs">CY Oct-FY</text><text transform="translate(716.09 355.2) rotate(-90)" fill="#9a9a9a" font-size="6" textLength="4.6" lengthAdjust="spacingAndGlyphs">…</text><text transform="translate(724.72 385.3) rotate(-90)" textLength="28.6" lengthAdjust="spacingAndGlyphs">CY Jan-FY</text><text transform="translate(724.42 355.2) rotate(-90)" fill="#9a9a9a" font-size="6" textLength="4.6" lengthAdjust="spacingAndGlyphs">…</text><text transform="translate(733.05 385.3) rotate(-90)" textLength="28.6" lengthAdjust="spacingAndGlyphs">CY Apr-FY</text><text transform="translate(732.75 355.2) rotate(-90)" fill="#9a9a9a" font-size="6" textLength="4.6" lengthAdjust="spacingAndGlyphs">…</text><text transform="translate(741.37 385.3) rotate(-90)" textLength="33.0" lengthAdjust="spacingAndGlyphs">CY Jul-FY 1</text><text transform="translate(749.70 385.3) rotate(-90)" textLength="28.6" lengthAdjust="spacingAndGlyphs">CY Oct-FY</text><text transform="translate(749.40 355.2) rotate(-90)" fill="#9a9a9a" font-size="6" textLength="4.6" lengthAdjust="spacingAndGlyphs">…</text><text transform="translate(758.03 385.3) rotate(-90)" textLength="28.6" lengthAdjust="spacingAndGlyphs">CY Jan-FY</text><text transform="translate(757.73 355.2) rotate(-90)" fill="#9a9a9a" font-size="6" textLength="4.6" lengthAdjust="spacingAndGlyphs">…</text><text transform="translate(766.36 385.3) rotate(-90)" textLength="28.6" lengthAdjust="spacingAndGlyphs">CY Apr-FY</text><text transform="translate(766.06 355.2) rotate(-90)" fill="#9a9a9a" font-size="6" textLength="4.6" lengthAdjust="spacingAndGlyphs">…</text><text transform="translate(774.68 385.3) rotate(-90)" textLength="33.0" lengthAdjust="spacingAndGlyphs">CY Jul-FY 1</text><text transform="translate(783.01 385.3) rotate(-90)" textLength="28.6" lengthAdjust="spacingAndGlyphs">CY Oct-FY</text><text transform="translate(782.71 355.2) rotate(-90)" fill="#9a9a9a" font-size="6" textLength="4.6" lengthAdjust="spacingAndGlyphs">…</text><text transform="translate(791.34 385.3) rotate(-90)" textLength="28.6" lengthAdjust="spacingAndGlyphs">CY Jan-FY</text><text transform="translate(791.04 355.2) rotate(-90)" fill="#9a9a9a" font-size="6" textLength="4.6" lengthAdjust="spacingAndGlyphs">…</text><text transform="translate(799.67 385.3) rotate(-90)" textLength="28.6" lengthAdjust="spacingAndGlyphs">CY Apr-FY</text><text transform="translate(799.37 355.2) rotate(-90)" fill="#9a9a9a" font-size="6" textLength="4.6" lengthAdjust="spacingAndGlyphs">…</text><text transform="translate(807.99 385.3) rotate(-90)" textLength="33.0" lengthAdjust="spacingAndGlyphs">CY Jul-FY 1</text><text transform="translate(816.32 385.3) rotate(-90)" textLength="28.6" lengthAdjust="spacingAndGlyphs">CY Oct-FY</text><text transform="translate(816.02 355.2) rotate(-90)" fill="#9a9a9a" font-size="6" textLength="4.6" lengthAdjust="spacingAndGlyphs">…</text></g></svg>
<div class="t" style="left:176.81px;top:264px;font-size:6.2px;line-height:6.2px;color:#262626;transform:scaleX(0.8606);-webkit-text-stroke:0.2px #262626;">12K</div>
<div class="t" style="left:179.77px;top:275px;font-size:6.2px;line-height:6.2px;color:#262626;transform:scaleX(0.8606);-webkit-text-stroke:0.2px #262626;">9K</div>
<div class="t" style="left:179.77px;top:286px;font-size:6.2px;line-height:6.2px;color:#262626;transform:scaleX(0.8606);-webkit-text-stroke:0.2px #262626;">6K</div>
<div class="t" style="left:179.77px;top:298px;font-size:6.2px;line-height:6.2px;color:#262626;transform:scaleX(0.8606);-webkit-text-stroke:0.2px #262626;">3K</div>
<div class="t" style="left:183.33px;top:309px;font-size:6.2px;line-height:6.2px;color:#262626;transform:scaleX(0.8606);-webkit-text-stroke:0.2px #262626;">0</div>
<div class="t" style="left:178.00px;top:320px;font-size:6.2px;line-height:6.2px;color:#262626;transform:scaleX(0.8606);-webkit-text-stroke:0.2px #262626;">-3K</div>
<div class="t" style="left:178.00px;top:331px;font-size:6.2px;line-height:6.2px;color:#262626;transform:scaleX(0.8606);-webkit-text-stroke:0.2px #262626;">-6K</div>
<div class="t" style="left:178.00px;top:343px;font-size:6.2px;line-height:6.2px;color:#262626;transform:scaleX(0.8606);-webkit-text-stroke:0.2px #262626;">-9K</div>
<div class="a" style="left:836.8px;top:282.9px;width:4.8px;height:1.3px;background:#2d4c5e;"></div>
<div class="t" style="left:845.10px;top:281px;font-size:6.6px;line-height:6.6px;color:#262626;transform:scaleX(0.9438);">Prediction</div>
<div class="a" style="left:836.8px;top:291.92999999999995px;width:4.8px;height:1.3px;background:#3d9b88;"></div>
<div class="t" style="left:845.10px;top:290px;font-size:6.6px;line-height:6.6px;color:#262626;transform:scaleX(0.8951);">Plan (Sample Plan)</div>
<div class="a" style="left:836.8px;top:300.96px;width:4.8px;height:1.3px;background:#f2cc62;"></div>
<div class="t" style="left:845.10px;top:299px;font-size:6.6px;line-height:6.6px;color:#262626;transform:scaleX(0.8564);">Best Case: 2.5%</div>
<div class="a" style="left:836.8px;top:309.98999999999995px;width:4.8px;height:1.3px;background:#e1573a;"></div>
<div class="t" style="left:845.10px;top:308px;font-size:6.6px;line-height:6.6px;color:#262626;transform:scaleX(0.8619);">Worst Case: 97.5%</div>
<div class="a" style="left:836.8px;top:319.02px;width:4.8px;height:1.3px;background:#8c2f7e;"></div>
<div class="t" style="left:845.10px;top:317px;font-size:6.6px;line-height:6.6px;color:#262626;transform:scaleX(0.9181);">Actual (Sample Actual)</div>
<div class="a" style="left:836.8px;top:328.04999999999995px;width:4.8px;height:1.3px;background:#e0664f;"></div>
<div class="t" style="left:845.10px;top:326px;font-size:6.6px;line-height:6.6px;color:#262626;transform:scaleX(0.9272);">AdjustedOutliers</div>
<svg width="24" height="10" viewBox="0 0 24 10" style="left:891px;top:262px" fill="none" stroke="#262626" stroke-width="0.95" stroke-linecap="round"><circle cx="4.6" cy="4.6" r="3.1"/><path d="M6.9 6.9 L8.6 8.6 M3.2 4.6 H6 M4.6 3.2 V6"/><circle cx="19.1" cy="5" r="3.3"/><circle cx="19.1" cy="5" r="1.1" fill="#262626"/></svg>
<div class="a" style="left:922px;top:257.3px;width:86px;height:227px;background:#f7f7f7;"></div>
<div class="a" style="left:922px;top:484.3px;width:86px;height:70px;background:#fafafa;"></div>
<div class="a" style="left:924px;top:262.2px;width:84px;height:52px;background:#ffffff;"></div>
<div class="a" style="left:922.7px;top:262.2px;width:2.6px;height:52px;background:#1c4f66;"></div>
<div class="t b" style="left:932.30px;top:266px;font-size:7.3px;line-height:7.3px;color:#262626;transform:scaleX(0.9721);">Prediction</div>
<div class="t b" style="left:964.85px;top:282px;font-size:11.6px;line-height:11.6px;color:#1e5876;transform:scaleX(1.0197);">-1.4%</div>
<div class="t" style="left:962.60px;top:298px;font-size:6.5px;line-height:6.5px;color:#6f6b68;transform:scaleX(0.9647);">Growth Rate</div>
<div class="a" style="left:924px;top:317.34999999999997px;width:84px;height:52px;background:#ffffff;"></div>
<div class="a" style="left:923.2px;top:317.34999999999997px;width:1.6px;height:52px;background:#2b8c96;"></div>
<div class="t b" style="left:932.30px;top:321px;font-size:7.3px;line-height:7.3px;color:#262626;transform:scaleX(0.9495);">Plan (Sample Plan)</div>
<div class="t b" style="left:967.90px;top:337px;font-size:11.6px;line-height:11.6px;color:#1e5876;transform:scaleX(0.9380);">1.2%</div>
<div class="t" style="left:962.60px;top:353px;font-size:6.5px;line-height:6.5px;color:#6f6b68;transform:scaleX(0.9647);">Growth Rate</div>
<div class="a" style="left:924px;top:372.5px;width:84px;height:52px;background:#ffffff;"></div>
<div class="a" style="left:922.6px;top:372.5px;width:2.8px;height:52px;background:#d98c2b;"></div>
<div class="t b" style="left:932.30px;top:376px;font-size:7.3px;line-height:7.3px;color:#262626;transform:scaleX(0.9318);">Worst Case</div>
<div class="t b" style="left:962.55px;top:393px;font-size:11.6px;line-height:11.6px;color:#1e5876;transform:scaleX(0.9659);">-18.1%</div>
<div class="t" style="left:962.60px;top:408px;font-size:6.5px;line-height:6.5px;color:#6f6b68;transform:scaleX(0.9647);">Growth Rate</div>
<div class="a" style="left:924px;top:427.65px;width:84px;height:52px;background:#ffffff;"></div>
<div class="a" style="left:922.7px;top:427.65px;width:2.6px;height:52px;background:#8e2b8e;"></div>
<div class="t b" style="left:932.30px;top:432px;font-size:7.3px;line-height:7.3px;color:#262626;transform:scaleX(0.9806);">Actual (Sample Actual)</div>
<div class="t b" style="left:964.55px;top:448px;font-size:11.6px;line-height:11.6px;color:#1e5876;transform:scaleX(1.0395);">-2.2%</div>
<div class="t" style="left:962.60px;top:464px;font-size:6.5px;line-height:6.5px;color:#6f6b68;transform:scaleX(0.9647);">Growth Rate</div>
<div class="a" style="left:163px;top:390.3px;width:749.8px;height:164px;background:#f7f7f7;"></div>
<div class="a" style="left:163px;top:554.3px;width:845px;height:1px;background:#ebebeb;"></div>
<div class="a" style="left:163px;top:555.3px;width:845px;height:13.2px;background:#fcfcfc;"></div>
<div class="a" style="left:265.7px;top:399.6px;width:181.40000000000003px;height:155.39999999999998px;background:#f9f9f9;border:0.9px solid #e9e9e9;"></div>
<div class="t" style="left:275.80px;top:412px;font-size:9.6px;line-height:9.6px;color:#262626;transform:scaleX(0.9541);">Historical Data Details</div>
<div class="a" style="left:272.8px;top:429.3px;width:167px;height:0.8px;background:#e7e7e7;"></div>
<div class="a" style="left:272.8px;top:448.2px;width:167px;height:0.8px;background:#e7e7e7;"></div>
<div class="a" style="left:272.8px;top:466.9px;width:167px;height:0.8px;background:#e7e7e7;"></div>
<div class="a" style="left:272.8px;top:485.6px;width:167px;height:0.8px;background:#e7e7e7;"></div>
<div class="a" style="left:272.8px;top:504.2px;width:167px;height:0.8px;background:#e7e7e7;"></div>
<div class="a" style="left:272.8px;top:522.8px;width:167px;height:0.8px;background:#e7e7e7;"></div>
<div class="a" style="left:272.8px;top:541.5px;width:167px;height:0.8px;background:#e7e7e7;"></div>
<div class="t" style="left:279.10px;top:435px;font-size:7.0px;line-height:7.0px;color:#55514e;">Total Values</div>
<div class="t b" style="left:399.02px;top:436px;font-size:6.5px;line-height:6.5px;color:#1f5fa0;transform:scaleX(0.9062);">72</div>
<div class="t" style="left:279.10px;top:454px;font-size:7.0px;line-height:7.0px;color:#55514e;transform:scaleX(1.0190);">Filled-in Missing Values</div>
<div class="t b" style="left:400.66px;top:455px;font-size:6.5px;line-height:6.5px;color:#1f5fa0;transform:scaleX(0.9062);">0</div>
<div class="t" style="left:279.10px;top:473px;font-size:7.0px;line-height:7.0px;color:#55514e;transform:scaleX(1.0243);">Adjusted Outliers</div>
<div class="t b" style="left:400.66px;top:474px;font-size:6.5px;line-height:6.5px;color:#1f5fa0;transform:scaleX(0.9062);">2</div>
<div class="t" style="left:279.10px;top:492px;font-size:7.0px;line-height:7.0px;color:#55514e;">Seasonality</div>
<div class="t b" style="left:399.02px;top:492px;font-size:6.5px;line-height:6.5px;color:#1f5fa0;transform:scaleX(0.9062);">12</div>
<div class="t" style="left:279.10px;top:510px;font-size:7.0px;line-height:7.0px;color:#55514e;transform:scaleX(0.9900);">Start Date</div>
<div class="t b" style="left:382.30px;top:511px;font-size:6.5px;line-height:6.5px;color:#1f5fa0;transform:scaleX(0.8832);">CAL_Jan FY18</div>
<div class="t" style="left:279.10px;top:529px;font-size:7.0px;line-height:7.0px;color:#55514e;transform:scaleX(0.9833);">End Date</div>
<div class="t b" style="left:382.30px;top:530px;font-size:6.5px;line-height:6.5px;color:#1f5fa0;transform:scaleX(0.8694);">CAL_Dec FY24</div>
<div class="a" style="left:636.4px;top:399.6px;width:181.5px;height:153.60000000000002px;background:#f9f9f9;border:0.9px solid #e9e9e9;"></div>
<div class="t" style="left:647.10px;top:412px;font-size:9.6px;line-height:9.6px;color:#262626;transform:scaleX(0.9611);">Prediction Details</div>
<div class="a" style="left:647.8px;top:428.1px;width:160px;height:0.8px;background:#e7e7e7;"></div>
<div class="a" style="left:647.8px;top:459.0px;width:160px;height:0.8px;background:#e7e7e7;"></div>
<div class="a" style="left:647.8px;top:478.8px;width:160px;height:0.8px;background:#e7e7e7;"></div>
<div class="a" style="left:647.8px;top:499.6px;width:160px;height:0.8px;background:#e7e7e7;"></div>
<div class="a" style="left:647.8px;top:520.2px;width:160px;height:0.8px;background:#e7e7e7;"></div>
<div class="a" style="left:647.8px;top:541.5px;width:160px;height:0.8px;background:#e7e7e7;"></div>
<div class="t" style="left:649.90px;top:440px;font-size:7.0px;line-height:7.0px;color:#55514e;">Accuracy</div>
<div class="t" style="left:649.90px;top:466px;font-size:7.0px;line-height:7.0px;color:#55514e;transform:scaleX(0.9823);">Error Measure (RMSE)</div>
<div class="t b" style="left:769.29px;top:466px;font-size:6.5px;line-height:6.5px;color:#1f5fa0;transform:scaleX(0.9062);">231</div>
<div class="t" style="left:649.90px;top:486px;font-size:7.0px;line-height:7.0px;color:#55514e;transform:scaleX(1.0308);">Best Prediction Method</div>
<div class="t" style="left:649.90px;top:507px;font-size:7.0px;line-height:7.0px;color:#55514e;transform:scaleX(1.0154);">Start Date</div>
<div class="t b" style="left:754.20px;top:508px;font-size:6.5px;line-height:6.5px;color:#1f5fa0;transform:scaleX(0.8876);">CAL_Jan FY25</div>
<div class="t" style="left:649.90px;top:527px;font-size:7.0px;line-height:7.0px;color:#55514e;">End Date</div>
<div class="t b" style="left:754.20px;top:528px;font-size:6.5px;line-height:6.5px;color:#1f5fa0;transform:scaleX(0.8737);">CAL_Dec FY36</div>
<div class="t b" style="left:755.10px;top:483px;font-size:6.3px;line-height:6.3px;color:#1f5fa0;transform:scaleX(0.9925);">Holt-Winters&#x27;</div>
<div class="t b" style="left:754.90px;top:491px;font-size:6.3px;line-height:6.3px;color:#1f5fa0;transform:scaleX(0.9772);">Multiplicative</div>
<svg width="1187" height="670" viewBox="0 0 1187 670" style="left:0;top:0" fill="none" stroke-width="2.6"><path d="M765.67 454.63 A12.2 12.2 0 1 1 782.93 454.63" stroke="#e6e6e6"/><path d="M765.67 454.63 A12.2 12.2 0 1 1 786.35 444.09" stroke="#f4c453"/></svg>
<div class="t b" style="left:768.20px;top:442px;font-size:6.6px;line-height:6.6px;color:#262626;transform:scaleX(0.9236);">80%</div>
<div class="a" style="left:163px;top:568.5px;width:845px;height:27px;background:#ffffff;"></div>
<div class="a" style="left:163px;top:568.1px;width:845px;height:0.9px;background:#8d8d8d;"></div>
<div class="a" style="left:226.2px;top:567.9px;width:138.5px;height:2.5px;background:#1a1a1a;border-radius:0 0 1.5px 1.5px;"></div>
<div class="t" style="left:168.80px;top:576px;font-size:7.2px;line-height:7.2px;color:#5d5956;transform:scaleX(0.9152);">Scope 1 Plan</div>
<div class="t" style="left:382.40px;top:576px;font-size:7.2px;line-height:7.2px;color:#5d5956;transform:scaleX(0.9432);">Scope 2 Plan</div>
<div class="t" style="left:448.60px;top:576px;font-size:7.2px;line-height:7.2px;color:#5d5956;transform:scaleX(0.9432);">Scope 3 Plan</div>
<div class="t" style="left:513.30px;top:576px;font-size:7.2px;line-height:7.2px;color:#5d5956;transform:scaleX(1.0196);">Initiative Analysis</div>
<div class="t" style="left:594.20px;top:576px;font-size:7.2px;line-height:7.2px;color:#5d5956;transform:scaleX(0.9697);">Map Plan to GHG</div>
<div class="t" style="left:673.30px;top:576px;font-size:7.2px;line-height:7.2px;color:#5d5956;">Update Plan</div>
<div class="t b" style="left:251.00px;top:576px;font-size:7.2px;line-height:7.2px;color:#262626;transform:scaleX(0.9089);">Plan - Scope 1 - Predict Usage</div>
<svg width="9" height="9" viewBox="0 0 9 9" style="left:235.3px;top:575.3px" fill="none" stroke-linejoin="round" stroke-linecap="round"><path d="M1 1 H7.2 V4.4 L4.2 7.6 H1 Z" fill="#2a2a2a" stroke="#2a2a2a" stroke-width="0.8"/><path d="M2.4 2.8 H5.8 M2.4 4.4 H4.6 M2.4 6 H3.4" stroke="#ffffff" stroke-width="0.7"/><path d="M4.8 8.2 L5.2 6.6 L7.6 4.2 L8.5 5.1 L6.2 7.6 Z" fill="#2a2a2a" stroke="#ffffff" stroke-width="0.35"/></svg>
<svg width="6" height="6" viewBox="0 0 6 6" style="left:349.6px;top:576.7px" fill="none" stroke="#262626" stroke-width="1.05" stroke-linecap="round"><path d="M1.2 1.2 L4.8 4.8 M4.8 1.2 L1.2 4.8"/></svg>
</div></div>
</body></html>
